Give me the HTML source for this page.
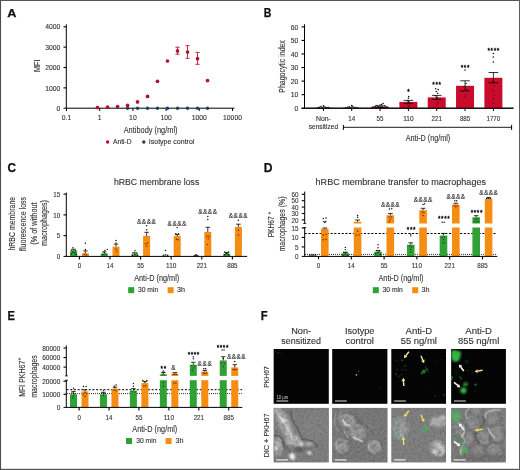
<!DOCTYPE html>
<html><head><meta charset="utf-8"><title>Figure</title>
<style>
html,body{margin:0;padding:0;background:#fff;}
body{width:520px;height:470px;overflow:hidden;}
svg{display:block;font-family:'Liberation Sans', sans-serif;}
</style></head><body>
<svg width="520" height="470" viewBox="0 0 520 470">
<rect width="520" height="470" fill="#ffffff"/>
<text x="7.30" y="17.00" font-size="11.6" text-anchor="start" fill="#111" stroke="#111" stroke-width="0.25" font-weight="bold" textLength="9.12" lengthAdjust="spacingAndGlyphs" >A</text>
<text x="263.80" y="17.00" font-size="12" text-anchor="start" fill="#111" stroke="#111" stroke-width="0.25" font-weight="bold" textLength="7.64" lengthAdjust="spacingAndGlyphs" >B</text>
<text x="7.50" y="172.00" font-size="12" text-anchor="start" fill="#111" stroke="#111" stroke-width="0.25" font-weight="bold" textLength="8.55" lengthAdjust="spacingAndGlyphs" >C</text>
<text x="263.80" y="172.00" font-size="12" text-anchor="start" fill="#111" stroke="#111" stroke-width="0.25" font-weight="bold" textLength="8.74" lengthAdjust="spacingAndGlyphs" >D</text>
<text x="7.60" y="320.00" font-size="12.4" text-anchor="start" fill="#111" stroke="#111" stroke-width="0.25" font-weight="bold" textLength="7.46" lengthAdjust="spacingAndGlyphs" >E</text>
<text x="260.80" y="320.00" font-size="12.4" text-anchor="start" fill="#111" stroke="#111" stroke-width="0.25" font-weight="bold" textLength="6.92" lengthAdjust="spacingAndGlyphs" >F</text>
<line x1="66.30" y1="24.30" x2="66.30" y2="108.65" stroke="#000000" stroke-width="1.0" />
<line x1="63.50" y1="108.20" x2="234.40" y2="108.20" stroke="#000000" stroke-width="1.0" />
<text x="60.30" y="110.85" font-size="7.3" text-anchor="end" fill="#333333" stroke="#333333" stroke-width="0.12" textLength="3.78" lengthAdjust="spacingAndGlyphs" >0</text>
<line x1="63.50" y1="87.85" x2="66.30" y2="87.85" stroke="#000000" stroke-width="1.1" />
<text x="60.30" y="90.50" font-size="7.3" text-anchor="end" fill="#333333" stroke="#333333" stroke-width="0.12" textLength="15.12" lengthAdjust="spacingAndGlyphs" >1000</text>
<line x1="63.50" y1="67.50" x2="66.30" y2="67.50" stroke="#000000" stroke-width="1.1" />
<text x="60.30" y="70.15" font-size="7.3" text-anchor="end" fill="#333333" stroke="#333333" stroke-width="0.12" textLength="15.12" lengthAdjust="spacingAndGlyphs" >2000</text>
<line x1="63.50" y1="47.15" x2="66.30" y2="47.15" stroke="#000000" stroke-width="1.1" />
<text x="60.30" y="49.80" font-size="7.3" text-anchor="end" fill="#333333" stroke="#333333" stroke-width="0.12" textLength="15.12" lengthAdjust="spacingAndGlyphs" >3000</text>
<line x1="63.50" y1="26.80" x2="66.30" y2="26.80" stroke="#000000" stroke-width="1.1" />
<text x="60.30" y="29.45" font-size="7.3" text-anchor="end" fill="#333333" stroke="#333333" stroke-width="0.12" textLength="15.12" lengthAdjust="spacingAndGlyphs" >4000</text>
<line x1="66.50" y1="108.20" x2="66.50" y2="111.00" stroke="#000000" stroke-width="1.0" />
<text x="66.50" y="120.35" font-size="7.3" text-anchor="middle" fill="#333333" stroke="#333333" stroke-width="0.12" textLength="9.45" lengthAdjust="spacingAndGlyphs" >0.1</text>
<line x1="99.70" y1="108.20" x2="99.70" y2="111.00" stroke="#000000" stroke-width="1.0" />
<text x="99.70" y="120.35" font-size="7.3" text-anchor="middle" fill="#333333" stroke="#333333" stroke-width="0.12" textLength="3.78" lengthAdjust="spacingAndGlyphs" >1</text>
<line x1="132.90" y1="108.20" x2="132.90" y2="111.00" stroke="#000000" stroke-width="1.0" />
<text x="132.90" y="120.35" font-size="7.3" text-anchor="middle" fill="#333333" stroke="#333333" stroke-width="0.12" textLength="7.56" lengthAdjust="spacingAndGlyphs" >10</text>
<line x1="166.10" y1="108.20" x2="166.10" y2="111.00" stroke="#000000" stroke-width="1.0" />
<text x="166.10" y="120.35" font-size="7.3" text-anchor="middle" fill="#333333" stroke="#333333" stroke-width="0.12" textLength="11.34" lengthAdjust="spacingAndGlyphs" >100</text>
<line x1="199.30" y1="108.20" x2="199.30" y2="111.00" stroke="#000000" stroke-width="1.0" />
<text x="199.30" y="120.35" font-size="7.3" text-anchor="middle" fill="#333333" stroke="#333333" stroke-width="0.12" textLength="15.12" lengthAdjust="spacingAndGlyphs" >1000</text>
<line x1="232.50" y1="108.20" x2="232.50" y2="111.00" stroke="#000000" stroke-width="1.0" />
<text x="232.50" y="120.35" font-size="7.3" text-anchor="middle" fill="#333333" stroke="#333333" stroke-width="0.12" textLength="18.90" lengthAdjust="spacingAndGlyphs" >10000</text>
<text x="39.70" y="65.80" font-size="9.7" text-anchor="middle" fill="#333333" stroke="#333333" stroke-width="0.12" textLength="12.40" lengthAdjust="spacingAndGlyphs" transform="rotate(-90 39.70 65.80)" >MFI</text>
<text x="150.60" y="132.80" font-size="9.5" text-anchor="middle" fill="#333333" stroke="#333333" stroke-width="0.12" textLength="53.80" lengthAdjust="spacingAndGlyphs" >Antibody (ng/ml)</text>
<circle cx="127.55" cy="108.20" r="1.7" fill="#17426b" />
<circle cx="137.54" cy="108.20" r="1.7" fill="#17426b" />
<circle cx="147.54" cy="108.20" r="1.7" fill="#17426b" />
<circle cx="157.48" cy="108.20" r="1.7" fill="#17426b" />
<circle cx="167.47" cy="108.20" r="1.7" fill="#17426b" />
<circle cx="177.53" cy="108.20" r="1.7" fill="#17426b" />
<circle cx="187.53" cy="108.20" r="1.7" fill="#17426b" />
<circle cx="197.54" cy="108.20" r="1.7" fill="#17426b" />
<circle cx="207.53" cy="108.20" r="1.7" fill="#17426b" />
<line x1="177.53" y1="47.20" x2="177.53" y2="54.20" stroke="#b5122f" stroke-width="0.9" />
<line x1="175.43" y1="47.20" x2="179.63" y2="47.20" stroke="#b5122f" stroke-width="0.9" />
<line x1="175.43" y1="54.20" x2="179.63" y2="54.20" stroke="#b5122f" stroke-width="0.9" />
<line x1="187.53" y1="45.70" x2="187.53" y2="58.30" stroke="#b5122f" stroke-width="0.9" />
<line x1="185.43" y1="45.70" x2="189.63" y2="45.70" stroke="#b5122f" stroke-width="0.9" />
<line x1="185.43" y1="58.30" x2="189.63" y2="58.30" stroke="#b5122f" stroke-width="0.9" />
<line x1="197.54" y1="52.40" x2="197.54" y2="64.30" stroke="#b5122f" stroke-width="0.9" />
<line x1="195.44" y1="52.40" x2="199.64" y2="52.40" stroke="#b5122f" stroke-width="0.9" />
<line x1="195.44" y1="64.30" x2="199.64" y2="64.30" stroke="#b5122f" stroke-width="0.9" />
<circle cx="97.53" cy="107.60" r="1.85" fill="#b5122f" />
<circle cx="107.60" cy="107.20" r="1.85" fill="#b5122f" />
<circle cx="117.56" cy="106.60" r="1.85" fill="#b5122f" />
<circle cx="127.55" cy="105.30" r="1.85" fill="#b5122f" />
<circle cx="137.54" cy="101.90" r="1.85" fill="#b5122f" />
<circle cx="147.54" cy="96.40" r="1.85" fill="#b5122f" />
<circle cx="157.48" cy="81.30" r="1.85" fill="#b5122f" />
<circle cx="167.47" cy="61.00" r="1.85" fill="#b5122f" />
<circle cx="177.53" cy="50.90" r="1.85" fill="#b5122f" />
<circle cx="187.53" cy="52.00" r="1.85" fill="#b5122f" />
<circle cx="197.54" cy="58.70" r="1.85" fill="#b5122f" />
<circle cx="207.53" cy="80.60" r="1.85" fill="#b5122f" />
<circle cx="107.60" cy="141.90" r="1.75" fill="#b5122f" />
<text x="113.00" y="144.10" font-size="6.7" text-anchor="start" fill="#333333" stroke="#333333" stroke-width="0.12" textLength="18.60" lengthAdjust="spacingAndGlyphs" >Anti-D</text>
<circle cx="143.80" cy="141.90" r="1.75" fill="#17426b" />
<text x="148.80" y="144.10" font-size="6.7" text-anchor="start" fill="#333333" stroke="#333333" stroke-width="0.12" textLength="45.60" lengthAdjust="spacingAndGlyphs" >Isotype control</text>
<line x1="304.50" y1="24.30" x2="304.50" y2="108.65" stroke="#000000" stroke-width="1.0" />
<line x1="301.50" y1="108.20" x2="513.50" y2="108.20" stroke="#000000" stroke-width="1.0" />
<text x="298.20" y="110.85" font-size="7.3" text-anchor="end" fill="#333333" stroke="#333333" stroke-width="0.12" textLength="3.78" lengthAdjust="spacingAndGlyphs" >0</text>
<line x1="301.50" y1="94.65" x2="304.50" y2="94.65" stroke="#000000" stroke-width="1.1" />
<text x="298.20" y="97.30" font-size="7.3" text-anchor="end" fill="#333333" stroke="#333333" stroke-width="0.12" textLength="7.56" lengthAdjust="spacingAndGlyphs" >10</text>
<line x1="301.50" y1="81.10" x2="304.50" y2="81.10" stroke="#000000" stroke-width="1.1" />
<text x="298.20" y="83.75" font-size="7.3" text-anchor="end" fill="#333333" stroke="#333333" stroke-width="0.12" textLength="7.56" lengthAdjust="spacingAndGlyphs" >20</text>
<line x1="301.50" y1="67.55" x2="304.50" y2="67.55" stroke="#000000" stroke-width="1.1" />
<text x="298.20" y="70.20" font-size="7.3" text-anchor="end" fill="#333333" stroke="#333333" stroke-width="0.12" textLength="7.56" lengthAdjust="spacingAndGlyphs" >30</text>
<line x1="301.50" y1="54.00" x2="304.50" y2="54.00" stroke="#000000" stroke-width="1.1" />
<text x="298.20" y="56.65" font-size="7.3" text-anchor="end" fill="#333333" stroke="#333333" stroke-width="0.12" textLength="7.56" lengthAdjust="spacingAndGlyphs" >40</text>
<line x1="301.50" y1="40.45" x2="304.50" y2="40.45" stroke="#000000" stroke-width="1.1" />
<text x="298.20" y="43.10" font-size="7.3" text-anchor="end" fill="#333333" stroke="#333333" stroke-width="0.12" textLength="7.56" lengthAdjust="spacingAndGlyphs" >50</text>
<line x1="301.50" y1="26.90" x2="304.50" y2="26.90" stroke="#000000" stroke-width="1.1" />
<text x="298.20" y="29.55" font-size="7.3" text-anchor="end" fill="#333333" stroke="#333333" stroke-width="0.12" textLength="7.56" lengthAdjust="spacingAndGlyphs" >60</text>
<text x="285.00" y="66.40" font-size="8.4" text-anchor="middle" fill="#333333" stroke="#333333" stroke-width="0.12" textLength="52.50" lengthAdjust="spacingAndGlyphs" transform="rotate(-90 285.00 66.40)" >Phagocytic index</text>
<rect x="314.40" y="107.70" width="18.00" height="0.50" fill="#c90c2c" />
<line x1="323.40" y1="108.20" x2="323.40" y2="111.00" stroke="#000000" stroke-width="1.0" />
<rect x="342.73" y="107.70" width="18.00" height="0.50" fill="#c90c2c" />
<line x1="351.73" y1="108.20" x2="351.73" y2="111.00" stroke="#000000" stroke-width="1.0" />
<rect x="371.06" y="106.90" width="18.00" height="1.30" fill="#c90c2c" />
<line x1="380.06" y1="108.20" x2="380.06" y2="111.00" stroke="#000000" stroke-width="1.0" />
<rect x="399.39" y="101.90" width="18.00" height="6.30" fill="#c90c2c" />
<line x1="408.39" y1="108.20" x2="408.39" y2="111.00" stroke="#000000" stroke-width="1.0" />
<rect x="427.72" y="97.40" width="18.00" height="10.80" fill="#c90c2c" />
<line x1="436.72" y1="108.20" x2="436.72" y2="111.00" stroke="#000000" stroke-width="1.0" />
<rect x="456.05" y="85.80" width="18.00" height="22.40" fill="#c90c2c" />
<line x1="465.05" y1="108.20" x2="465.05" y2="111.00" stroke="#000000" stroke-width="1.0" />
<rect x="484.38" y="77.80" width="18.00" height="30.40" fill="#c90c2c" />
<line x1="493.38" y1="108.20" x2="493.38" y2="111.00" stroke="#000000" stroke-width="1.0" />
<line x1="301.50" y1="108.20" x2="513.50" y2="108.20" stroke="#000000" stroke-width="1.0" />
<line x1="380.06" y1="105.90" x2="380.06" y2="107.60" stroke="#000000" stroke-width="0.8" />
<line x1="375.26" y1="105.90" x2="384.86" y2="105.90" stroke="#000000" stroke-width="0.8" />
<line x1="375.26" y1="107.60" x2="384.86" y2="107.60" stroke="#000000" stroke-width="0.8" />
<line x1="408.39" y1="100.40" x2="408.39" y2="103.40" stroke="#000000" stroke-width="0.8" />
<line x1="403.59" y1="100.40" x2="413.19" y2="100.40" stroke="#000000" stroke-width="0.8" />
<line x1="403.59" y1="103.40" x2="413.19" y2="103.40" stroke="#000000" stroke-width="0.8" />
<line x1="436.72" y1="95.40" x2="436.72" y2="99.30" stroke="#000000" stroke-width="0.8" />
<line x1="431.92" y1="95.40" x2="441.52" y2="95.40" stroke="#000000" stroke-width="0.8" />
<line x1="431.92" y1="99.30" x2="441.52" y2="99.30" stroke="#000000" stroke-width="0.8" />
<line x1="465.05" y1="80.80" x2="465.05" y2="90.80" stroke="#000000" stroke-width="0.8" />
<line x1="460.25" y1="80.80" x2="469.85" y2="80.80" stroke="#000000" stroke-width="0.8" />
<line x1="460.25" y1="90.80" x2="469.85" y2="90.80" stroke="#000000" stroke-width="0.8" />
<line x1="493.38" y1="72.50" x2="493.38" y2="82.80" stroke="#000000" stroke-width="0.8" />
<line x1="488.58" y1="72.50" x2="498.18" y2="72.50" stroke="#000000" stroke-width="0.8" />
<line x1="488.58" y1="82.80" x2="498.18" y2="82.80" stroke="#000000" stroke-width="0.8" />
<circle cx="319.40" cy="107.30" r="0.8" fill="#111" />
<circle cx="320.90" cy="106.60" r="0.8" fill="#111" />
<circle cx="322.40" cy="107.50" r="0.8" fill="#111" />
<circle cx="323.90" cy="106.20" r="0.8" fill="#111" />
<circle cx="325.40" cy="107.20" r="0.8" fill="#111" />
<circle cx="326.90" cy="107.60" r="0.8" fill="#111" />
<circle cx="317.90" cy="107.70" r="0.8" fill="#111" />
<circle cx="328.40" cy="107.60" r="0.8" fill="#111" />
<circle cx="323.40" cy="105.80" r="0.8" fill="#111" />
<circle cx="347.73" cy="107.40" r="0.8" fill="#111" />
<circle cx="349.23" cy="106.90" r="0.8" fill="#111" />
<circle cx="350.73" cy="107.50" r="0.8" fill="#111" />
<circle cx="352.23" cy="106.30" r="0.8" fill="#111" />
<circle cx="353.73" cy="107.20" r="0.8" fill="#111" />
<circle cx="355.23" cy="107.60" r="0.8" fill="#111" />
<circle cx="345.73" cy="107.70" r="0.8" fill="#111" />
<circle cx="357.23" cy="107.70" r="0.8" fill="#111" />
<circle cx="351.73" cy="105.60" r="0.8" fill="#111" />
<circle cx="374.06" cy="106.80" r="0.8" fill="#111" />
<circle cx="375.56" cy="106.20" r="0.8" fill="#111" />
<circle cx="377.06" cy="105.60" r="0.8" fill="#111" />
<circle cx="378.56" cy="106.50" r="0.8" fill="#111" />
<circle cx="380.06" cy="105.00" r="0.8" fill="#111" />
<circle cx="381.56" cy="104.60" r="0.8" fill="#111" />
<circle cx="383.06" cy="103.50" r="0.8" fill="#111" />
<circle cx="384.56" cy="105.80" r="0.8" fill="#111" />
<circle cx="386.06" cy="106.60" r="0.8" fill="#111" />
<circle cx="372.56" cy="107.20" r="0.8" fill="#111" />
<circle cx="387.56" cy="107.20" r="0.8" fill="#111" />
<circle cx="382.06" cy="106.50" r="0.8" fill="#111" />
<circle cx="378.06" cy="107.10" r="0.8" fill="#111" />
<circle cx="408.39" cy="90.60" r="0.8" fill="#111" />
<circle cx="408.69" cy="96.50" r="0.8" fill="#111" />
<circle cx="408.39" cy="98.30" r="0.8" fill="#111" />
<circle cx="407.59" cy="100.80" r="0.8" fill="#111" />
<circle cx="409.19" cy="102.20" r="0.8" fill="#111" />
<circle cx="407.39" cy="104.00" r="0.8" fill="#3a0008" opacity="0.65"/>
<circle cx="409.59" cy="105.50" r="0.8" fill="#3a0008" opacity="0.65"/>
<circle cx="408.39" cy="106.80" r="0.8" fill="#3a0008" opacity="0.65"/>
<circle cx="435.72" cy="88.70" r="0.8" fill="#111" />
<circle cx="438.22" cy="89.60" r="0.8" fill="#111" />
<circle cx="436.22" cy="91.50" r="0.8" fill="#111" />
<circle cx="437.72" cy="93.30" r="0.8" fill="#111" />
<circle cx="435.22" cy="95.80" r="0.8" fill="#111" />
<circle cx="437.22" cy="97.50" r="0.8" fill="#111" />
<circle cx="436.22" cy="100.00" r="0.8" fill="#3a0008" opacity="0.65"/>
<circle cx="437.72" cy="102.50" r="0.8" fill="#3a0008" opacity="0.65"/>
<circle cx="436.72" cy="105.00" r="0.8" fill="#3a0008" opacity="0.65"/>
<circle cx="465.05" cy="70.00" r="0.8" fill="#111" />
<circle cx="466.05" cy="83.50" r="0.8" fill="#111" />
<circle cx="464.05" cy="86.50" r="0.8" fill="#3a0008" opacity="0.65"/>
<circle cx="466.55" cy="89.50" r="0.8" fill="#3a0008" opacity="0.65"/>
<circle cx="463.55" cy="91.50" r="0.8" fill="#3a0008" opacity="0.65"/>
<circle cx="465.55" cy="94.50" r="0.8" fill="#3a0008" opacity="0.65"/>
<circle cx="464.55" cy="97.00" r="0.8" fill="#3a0008" opacity="0.65"/>
<circle cx="493.38" cy="53.50" r="0.8" fill="#111" />
<circle cx="493.38" cy="57.00" r="0.8" fill="#111" />
<circle cx="493.38" cy="62.00" r="0.8" fill="#111" />
<circle cx="492.38" cy="82.00" r="0.8" fill="#3a0008" opacity="0.65"/>
<circle cx="494.38" cy="86.00" r="0.8" fill="#3a0008" opacity="0.65"/>
<circle cx="492.88" cy="90.50" r="0.8" fill="#3a0008" opacity="0.65"/>
<circle cx="494.18" cy="95.00" r="0.8" fill="#3a0008" opacity="0.65"/>
<circle cx="493.38" cy="99.00" r="0.8" fill="#3a0008" opacity="0.65"/>
<circle cx="493.38" cy="103.00" r="0.8" fill="#3a0008" opacity="0.65"/>
<text x="408.39" y="93.90" font-size="6.4" text-anchor="middle" fill="#000" stroke="#000" stroke-width="0.3" >*</text>
<text x="436.72" y="86.90" font-size="6.4" text-anchor="middle" fill="#000" stroke="#000" stroke-width="0.3" textLength="8.70" lengthAdjust="spacing" >***</text>
<text x="465.05" y="69.60" font-size="6.4" text-anchor="middle" fill="#000" stroke="#000" stroke-width="0.3" textLength="8.70" lengthAdjust="spacing" >***</text>
<text x="493.38" y="53.30" font-size="6.4" text-anchor="middle" fill="#000" stroke="#000" stroke-width="0.3" textLength="11.60" lengthAdjust="spacing" >****</text>
<text x="323.40" y="120.70" font-size="6.7" text-anchor="middle" fill="#333333" stroke="#333333" stroke-width="0.12" textLength="15.00" lengthAdjust="spacingAndGlyphs" >Non-</text>
<text x="323.40" y="128.80" font-size="6.7" text-anchor="middle" fill="#333333" stroke="#333333" stroke-width="0.12" textLength="29.50" lengthAdjust="spacingAndGlyphs" >sensitized</text>
<text x="351.73" y="120.85" font-size="7.6" text-anchor="middle" fill="#333333" stroke="#333333" stroke-width="0.12" textLength="6.90" lengthAdjust="spacingAndGlyphs" >14</text>
<text x="380.06" y="120.85" font-size="7.6" text-anchor="middle" fill="#333333" stroke="#333333" stroke-width="0.12" textLength="6.90" lengthAdjust="spacingAndGlyphs" >55</text>
<text x="408.39" y="120.85" font-size="7.6" text-anchor="middle" fill="#333333" stroke="#333333" stroke-width="0.12" textLength="10.35" lengthAdjust="spacingAndGlyphs" >110</text>
<text x="436.72" y="120.85" font-size="7.6" text-anchor="middle" fill="#333333" stroke="#333333" stroke-width="0.12" textLength="10.35" lengthAdjust="spacingAndGlyphs" >221</text>
<text x="465.05" y="120.85" font-size="7.6" text-anchor="middle" fill="#333333" stroke="#333333" stroke-width="0.12" textLength="10.35" lengthAdjust="spacingAndGlyphs" >885</text>
<text x="493.38" y="120.85" font-size="7.6" text-anchor="middle" fill="#333333" stroke="#333333" stroke-width="0.12" textLength="13.80" lengthAdjust="spacingAndGlyphs" >1770</text>
<line x1="343.40" y1="127.30" x2="511.60" y2="127.30" stroke="#000000" stroke-width="0.9" />
<line x1="343.40" y1="124.90" x2="343.40" y2="129.90" stroke="#000000" stroke-width="1.0" />
<line x1="511.60" y1="124.90" x2="511.60" y2="129.90" stroke="#000000" stroke-width="1.0" />
<text x="428.00" y="140.80" font-size="9.5" text-anchor="middle" fill="#333333" stroke="#333333" stroke-width="0.12" textLength="44.50" lengthAdjust="spacingAndGlyphs" >Anti-D (ng/ml)</text>
<text x="156.60" y="185.40" font-size="8.9" text-anchor="middle" fill="#333333" stroke="#333333" stroke-width="0.12" textLength="85.40" lengthAdjust="spacingAndGlyphs" >hRBC membrane loss</text>
<line x1="66.30" y1="192.60" x2="66.30" y2="256.90" stroke="#000000" stroke-width="1.0" />
<text x="60.30" y="259.05" font-size="7.6" text-anchor="end" fill="#333333" stroke="#333333" stroke-width="0.12" textLength="3.50" lengthAdjust="spacingAndGlyphs" >0</text>
<line x1="63.50" y1="235.65" x2="66.50" y2="235.65" stroke="#000000" stroke-width="1.1" />
<text x="60.30" y="238.30" font-size="7.6" text-anchor="end" fill="#333333" stroke="#333333" stroke-width="0.12" textLength="3.50" lengthAdjust="spacingAndGlyphs" >5</text>
<line x1="63.50" y1="214.90" x2="66.50" y2="214.90" stroke="#000000" stroke-width="1.1" />
<text x="60.30" y="217.55" font-size="7.6" text-anchor="end" fill="#333333" stroke="#333333" stroke-width="0.12" textLength="7.00" lengthAdjust="spacingAndGlyphs" >10</text>
<line x1="63.50" y1="194.15" x2="66.50" y2="194.15" stroke="#000000" stroke-width="1.1" />
<text x="60.30" y="196.80" font-size="7.6" text-anchor="end" fill="#333333" stroke="#333333" stroke-width="0.12" textLength="7.00" lengthAdjust="spacingAndGlyphs" >15</text>
<text x="15.00" y="223.70" font-size="8.2" text-anchor="middle" fill="#333333" stroke="#333333" stroke-width="0.12" textLength="53.60" lengthAdjust="spacingAndGlyphs" transform="rotate(-90 15.00 223.70)" >hRBC membrane</text>
<text x="26.10" y="223.90" font-size="8.2" text-anchor="middle" fill="#333333" stroke="#333333" stroke-width="0.12" textLength="54.00" lengthAdjust="spacingAndGlyphs" transform="rotate(-90 26.10 223.90)" >fluorescence loss</text>
<text x="37.10" y="223.60" font-size="8.2" text-anchor="middle" fill="#333333" stroke="#333333" stroke-width="0.12" textLength="42.40" lengthAdjust="spacingAndGlyphs" transform="rotate(-90 37.10 223.60)" >(% of without</text>
<text x="47.00" y="223.00" font-size="8.2" text-anchor="middle" fill="#333333" stroke="#333333" stroke-width="0.12" textLength="46.00" lengthAdjust="spacingAndGlyphs" transform="rotate(-90 47.00 223.00)" >macrophages)</text>
<rect x="70.20" y="250.50" width="7.00" height="5.90" fill="#31a136" />
<rect x="100.80" y="253.60" width="7.00" height="2.80" fill="#31a136" />
<rect x="131.40" y="254.40" width="7.00" height="2.00" fill="#31a136" />
<rect x="162.00" y="255.60" width="7.00" height="0.80" fill="#31a136" />
<rect x="192.60" y="255.90" width="7.00" height="0.50" fill="#31a136" />
<rect x="223.20" y="253.80" width="7.00" height="2.60" fill="#31a136" />
<rect x="81.90" y="253.20" width="7.00" height="3.20" fill="#f48d12" />
<rect x="112.50" y="246.70" width="7.00" height="9.70" fill="#f48d12" />
<rect x="143.10" y="235.80" width="7.00" height="20.60" fill="#f48d12" />
<rect x="173.70" y="236.00" width="7.00" height="20.40" fill="#f48d12" />
<rect x="204.30" y="232.00" width="7.00" height="24.40" fill="#f48d12" />
<rect x="234.90" y="226.90" width="7.00" height="29.50" fill="#f48d12" />
<line x1="63.50" y1="256.40" x2="247.20" y2="256.40" stroke="#000000" stroke-width="1.0" />
<line x1="79.40" y1="256.40" x2="79.40" y2="259.40" stroke="#000000" stroke-width="1.1" />
<text x="79.40" y="268.35" font-size="7.6" text-anchor="middle" fill="#333333" stroke="#333333" stroke-width="0.12" textLength="3.45" lengthAdjust="spacingAndGlyphs" >0</text>
<line x1="110.00" y1="256.40" x2="110.00" y2="259.40" stroke="#000000" stroke-width="1.1" />
<text x="110.00" y="268.35" font-size="7.6" text-anchor="middle" fill="#333333" stroke="#333333" stroke-width="0.12" textLength="6.90" lengthAdjust="spacingAndGlyphs" >14</text>
<line x1="140.60" y1="256.40" x2="140.60" y2="259.40" stroke="#000000" stroke-width="1.1" />
<text x="140.60" y="268.35" font-size="7.6" text-anchor="middle" fill="#333333" stroke="#333333" stroke-width="0.12" textLength="6.90" lengthAdjust="spacingAndGlyphs" >55</text>
<line x1="171.20" y1="256.40" x2="171.20" y2="259.40" stroke="#000000" stroke-width="1.1" />
<text x="171.20" y="268.35" font-size="7.6" text-anchor="middle" fill="#333333" stroke="#333333" stroke-width="0.12" textLength="10.35" lengthAdjust="spacingAndGlyphs" >110</text>
<line x1="201.80" y1="256.40" x2="201.80" y2="259.40" stroke="#000000" stroke-width="1.1" />
<text x="201.80" y="268.35" font-size="7.6" text-anchor="middle" fill="#333333" stroke="#333333" stroke-width="0.12" textLength="10.35" lengthAdjust="spacingAndGlyphs" >221</text>
<line x1="232.40" y1="256.40" x2="232.40" y2="259.40" stroke="#000000" stroke-width="1.1" />
<text x="232.40" y="268.35" font-size="7.6" text-anchor="middle" fill="#333333" stroke="#333333" stroke-width="0.12" textLength="10.35" lengthAdjust="spacingAndGlyphs" >885</text>
<line x1="73.70" y1="249.20" x2="73.70" y2="250.50" stroke="#111" stroke-width="0.8" />
<line x1="71.50" y1="249.20" x2="75.90" y2="249.20" stroke="#111" stroke-width="0.8" />
<line x1="104.30" y1="251.80" x2="104.30" y2="253.60" stroke="#111" stroke-width="0.8" />
<line x1="102.10" y1="251.80" x2="106.50" y2="251.80" stroke="#111" stroke-width="0.8" />
<line x1="134.90" y1="252.80" x2="134.90" y2="254.40" stroke="#111" stroke-width="0.8" />
<line x1="132.70" y1="252.80" x2="137.10" y2="252.80" stroke="#111" stroke-width="0.8" />
<line x1="226.70" y1="252.60" x2="226.70" y2="253.80" stroke="#111" stroke-width="0.8" />
<line x1="224.50" y1="252.60" x2="228.90" y2="252.60" stroke="#111" stroke-width="0.8" />
<line x1="85.40" y1="250.90" x2="85.40" y2="253.20" stroke="#111" stroke-width="0.85" />
<line x1="83.10" y1="250.90" x2="87.70" y2="250.90" stroke="#111" stroke-width="0.85" />
<line x1="116.00" y1="244.10" x2="116.00" y2="246.70" stroke="#111" stroke-width="0.85" />
<line x1="113.70" y1="244.10" x2="118.30" y2="244.10" stroke="#111" stroke-width="0.85" />
<line x1="146.60" y1="232.30" x2="146.60" y2="235.80" stroke="#111" stroke-width="0.85" />
<line x1="144.30" y1="232.30" x2="148.90" y2="232.30" stroke="#111" stroke-width="0.85" />
<line x1="177.20" y1="234.60" x2="177.20" y2="236.00" stroke="#111" stroke-width="0.85" />
<line x1="174.90" y1="234.60" x2="179.50" y2="234.60" stroke="#111" stroke-width="0.85" />
<line x1="207.80" y1="227.30" x2="207.80" y2="232.00" stroke="#111" stroke-width="0.85" />
<line x1="205.50" y1="227.30" x2="210.10" y2="227.30" stroke="#111" stroke-width="0.85" />
<line x1="238.40" y1="224.20" x2="238.40" y2="226.90" stroke="#111" stroke-width="0.85" />
<line x1="236.10" y1="224.20" x2="240.70" y2="224.20" stroke="#111" stroke-width="0.85" />
<circle cx="72.90" cy="247.80" r="0.72" fill="#111" />
<circle cx="71.70" cy="250.00" r="0.72" fill="#111" />
<circle cx="75.20" cy="250.50" r="0.72" fill="#111" />
<circle cx="72.70" cy="252.00" r="0.72" fill="#111" />
<circle cx="74.70" cy="253.00" r="0.72" fill="#111" />
<circle cx="71.20" cy="254.00" r="0.72" fill="#111" />
<circle cx="76.20" cy="254.50" r="0.72" fill="#111" />
<circle cx="104.90" cy="250.50" r="0.72" fill="#111" />
<circle cx="107.30" cy="249.40" r="0.72" fill="#111" />
<circle cx="104.30" cy="252.50" r="0.72" fill="#111" />
<circle cx="102.80" cy="254.50" r="0.72" fill="#111" />
<circle cx="105.80" cy="254.00" r="0.72" fill="#111" />
<circle cx="134.90" cy="250.80" r="0.72" fill="#111" />
<circle cx="132.90" cy="253.00" r="0.72" fill="#111" />
<circle cx="136.90" cy="253.50" r="0.72" fill="#111" />
<circle cx="134.90" cy="254.50" r="0.72" fill="#111" />
<circle cx="132.40" cy="255.30" r="0.72" fill="#111" />
<circle cx="137.40" cy="255.30" r="0.72" fill="#111" />
<circle cx="165.50" cy="250.50" r="0.72" fill="#111" />
<circle cx="163.50" cy="255.20" r="0.72" fill="#111" />
<circle cx="165.50" cy="254.80" r="0.72" fill="#111" />
<circle cx="167.50" cy="255.30" r="0.72" fill="#111" />
<circle cx="194.50" cy="255.60" r="0.72" fill="#111" />
<circle cx="196.10" cy="254.60" r="0.72" fill="#111" />
<circle cx="197.70" cy="255.60" r="0.72" fill="#111" />
<circle cx="195.30" cy="255.20" r="0.72" fill="#111" />
<circle cx="196.90" cy="255.20" r="0.72" fill="#111" />
<circle cx="224.70" cy="252.00" r="0.72" fill="#111" />
<circle cx="228.70" cy="252.00" r="0.72" fill="#111" />
<circle cx="226.70" cy="253.50" r="0.72" fill="#111" />
<circle cx="224.70" cy="254.80" r="0.72" fill="#111" />
<circle cx="228.70" cy="254.80" r="0.72" fill="#111" />
<circle cx="225.70" cy="253.00" r="0.72" fill="#111" />
<circle cx="227.70" cy="253.00" r="0.72" fill="#111" />
<circle cx="85.40" cy="243.30" r="0.75" fill="#111" />
<circle cx="85.40" cy="249.50" r="0.75" fill="#111" />
<circle cx="84.40" cy="254.20" r="0.75" fill="#6a1400" opacity="0.85"/>
<circle cx="86.40" cy="255.00" r="0.75" fill="#6a1400" opacity="0.85"/>
<circle cx="116.00" cy="240.40" r="0.75" fill="#111" />
<circle cx="116.00" cy="243.00" r="0.75" fill="#111" />
<circle cx="116.00" cy="249.20" r="0.75" fill="#6a1400" opacity="0.85"/>
<circle cx="117.00" cy="251.50" r="0.75" fill="#6a1400" opacity="0.85"/>
<circle cx="146.60" cy="225.80" r="0.75" fill="#111" />
<circle cx="146.60" cy="229.80" r="0.75" fill="#111" />
<circle cx="145.60" cy="243.80" r="0.75" fill="#6a1400" opacity="0.85"/>
<circle cx="147.60" cy="243.00" r="0.75" fill="#6a1400" opacity="0.85"/>
<circle cx="146.60" cy="246.00" r="0.75" fill="#6a1400" opacity="0.85"/>
<circle cx="177.20" cy="227.50" r="0.75" fill="#111" />
<circle cx="175.90" cy="233.80" r="0.75" fill="#111" />
<circle cx="178.50" cy="233.80" r="0.75" fill="#111" />
<circle cx="176.60" cy="239.20" r="0.75" fill="#6a1400" opacity="0.85"/>
<circle cx="178.20" cy="239.80" r="0.75" fill="#6a1400" opacity="0.85"/>
<circle cx="207.80" cy="216.40" r="0.75" fill="#111" />
<circle cx="207.80" cy="219.50" r="0.75" fill="#111" />
<circle cx="206.80" cy="236.30" r="0.75" fill="#6a1400" opacity="0.85"/>
<circle cx="209.20" cy="236.30" r="0.75" fill="#6a1400" opacity="0.85"/>
<circle cx="208.20" cy="238.40" r="0.75" fill="#6a1400" opacity="0.85"/>
<circle cx="207.50" cy="244.40" r="0.75" fill="#6a1400" opacity="0.85"/>
<circle cx="238.40" cy="220.20" r="0.75" fill="#111" />
<circle cx="238.40" cy="230.30" r="0.75" fill="#6a1400" opacity="0.85"/>
<circle cx="238.40" cy="235.00" r="0.75" fill="#6a1400" opacity="0.85"/>
<text x="146.40" y="224.00" font-size="6.5" text-anchor="middle" fill="#333333" stroke="#333333" stroke-width="0.12" textLength="18.80" lengthAdjust="spacing" >&amp;&amp;&amp;&amp;</text>
<text x="177.00" y="225.50" font-size="6.5" text-anchor="middle" fill="#333333" stroke="#333333" stroke-width="0.12" textLength="18.80" lengthAdjust="spacing" >&amp;&amp;&amp;&amp;</text>
<text x="207.60" y="214.30" font-size="6.5" text-anchor="middle" fill="#333333" stroke="#333333" stroke-width="0.12" textLength="18.80" lengthAdjust="spacing" >&amp;&amp;&amp;&amp;</text>
<text x="238.20" y="218.40" font-size="6.5" text-anchor="middle" fill="#333333" stroke="#333333" stroke-width="0.12" textLength="18.80" lengthAdjust="spacing" >&amp;&amp;&amp;&amp;</text>
<text x="156.70" y="280.80" font-size="9.5" text-anchor="middle" fill="#333333" stroke="#333333" stroke-width="0.12" textLength="45.00" lengthAdjust="spacingAndGlyphs" >Anti-D (ng/ml)</text>
<rect x="128.20" y="287.20" width="6.00" height="6.00" fill="#31a136" />
<text x="138.00" y="292.20" font-size="6.7" text-anchor="start" fill="#333333" stroke="#333333" stroke-width="0.12" textLength="20.20" lengthAdjust="spacingAndGlyphs" >30 min</text>
<rect x="167.60" y="287.20" width="6.00" height="6.00" fill="#f48d12" />
<text x="177.00" y="292.20" font-size="6.7" text-anchor="start" fill="#333333" stroke="#333333" stroke-width="0.12" textLength="8.00" lengthAdjust="spacingAndGlyphs" >3h</text>
<text x="400.80" y="185.40" font-size="8.9" text-anchor="middle" fill="#333333" stroke="#333333" stroke-width="0.12" textLength="170.40" lengthAdjust="spacingAndGlyphs" >hRBC membrane transfer to macrophages</text>
<line x1="304.70" y1="191.60" x2="304.70" y2="223.50" stroke="#000000" stroke-width="1.0" />
<line x1="304.70" y1="227.50" x2="304.70" y2="256.90" stroke="#000000" stroke-width="1.0" />
<line x1="303.20" y1="223.50" x2="306.20" y2="223.50" stroke="#000000" stroke-width="0.8" />
<line x1="303.20" y1="227.50" x2="306.20" y2="227.50" stroke="#000000" stroke-width="0.8" />
<line x1="301.70" y1="219.90" x2="304.70" y2="219.90" stroke="#000000" stroke-width="1.1" />
<text x="298.40" y="222.55" font-size="7.6" text-anchor="end" fill="#333333" stroke="#333333" stroke-width="0.12" textLength="7.00" lengthAdjust="spacingAndGlyphs" >20</text>
<line x1="301.70" y1="213.50" x2="304.70" y2="213.50" stroke="#000000" stroke-width="1.1" />
<text x="298.40" y="216.15" font-size="7.6" text-anchor="end" fill="#333333" stroke="#333333" stroke-width="0.12" textLength="7.00" lengthAdjust="spacingAndGlyphs" >30</text>
<line x1="301.70" y1="207.10" x2="304.70" y2="207.10" stroke="#000000" stroke-width="1.1" />
<text x="298.40" y="209.75" font-size="7.6" text-anchor="end" fill="#333333" stroke="#333333" stroke-width="0.12" textLength="7.00" lengthAdjust="spacingAndGlyphs" >40</text>
<line x1="301.70" y1="200.70" x2="304.70" y2="200.70" stroke="#000000" stroke-width="1.1" />
<text x="298.40" y="203.35" font-size="7.6" text-anchor="end" fill="#333333" stroke="#333333" stroke-width="0.12" textLength="7.00" lengthAdjust="spacingAndGlyphs" >50</text>
<line x1="301.70" y1="194.30" x2="304.70" y2="194.30" stroke="#000000" stroke-width="1.1" />
<text x="298.40" y="196.95" font-size="7.6" text-anchor="end" fill="#333333" stroke="#333333" stroke-width="0.12" textLength="7.00" lengthAdjust="spacingAndGlyphs" >60</text>
<text x="298.40" y="259.05" font-size="7.6" text-anchor="end" fill="#333333" stroke="#333333" stroke-width="0.12" textLength="3.50" lengthAdjust="spacingAndGlyphs" >0</text>
<line x1="301.70" y1="246.93" x2="304.70" y2="246.93" stroke="#000000" stroke-width="1.1" />
<text x="298.40" y="249.58" font-size="7.6" text-anchor="end" fill="#333333" stroke="#333333" stroke-width="0.12" textLength="3.50" lengthAdjust="spacingAndGlyphs" >5</text>
<line x1="301.70" y1="237.46" x2="304.70" y2="237.46" stroke="#000000" stroke-width="1.1" />
<text x="298.40" y="240.11" font-size="7.6" text-anchor="end" fill="#333333" stroke="#333333" stroke-width="0.12" textLength="7.00" lengthAdjust="spacingAndGlyphs" >10</text>
<line x1="301.70" y1="227.99" x2="304.70" y2="227.99" stroke="#000000" stroke-width="1.1" />
<text x="298.40" y="230.64" font-size="7.6" text-anchor="end" fill="#333333" stroke="#333333" stroke-width="0.12" textLength="7.00" lengthAdjust="spacingAndGlyphs" >15</text>
<text x="274.10" y="226.80" font-size="8.2" text-anchor="middle" fill="#333333" stroke="#333333" stroke-width="0.12" textLength="21.00" lengthAdjust="spacingAndGlyphs" transform="rotate(-90 274.10 226.80)" >PKH67</text>
<text x="270.70" y="213.00" font-size="5.2" text-anchor="middle" fill="#333333" stroke="#333333" stroke-width="0.12" transform="rotate(-90 270.70 213.00)" >+</text>
<text x="285.20" y="224.00" font-size="8.2" text-anchor="middle" fill="#333333" stroke="#333333" stroke-width="0.12" textLength="55.00" lengthAdjust="spacingAndGlyphs" transform="rotate(-90 285.20 224.00)" >macrophages (%)</text>
<line x1="304.70" y1="233.50" x2="496.60" y2="233.50" stroke="#000" stroke-width="1.0" stroke-dasharray="2.1 1.6"/>
<line x1="305.00" y1="254.40" x2="496.60" y2="254.40" stroke="#000" stroke-width="0.9" stroke-dasharray="0.9 1.1"/>
<rect x="308.80" y="255.60" width="7.60" height="0.80" fill="#31a136" />
<rect x="341.52" y="253.40" width="7.60" height="3.00" fill="#31a136" />
<rect x="374.24" y="251.80" width="7.60" height="4.60" fill="#31a136" />
<rect x="406.96" y="244.70" width="7.60" height="11.70" fill="#31a136" />
<rect x="439.68" y="235.60" width="7.60" height="20.80" fill="#31a136" />
<rect x="472.40" y="227.50" width="7.60" height="28.90" fill="#31a136" />
<rect x="472.40" y="217.30" width="7.60" height="6.20" fill="#31a136" />
<rect x="321.00" y="228.80" width="7.60" height="27.60" fill="#f48d12" />
<rect x="353.76" y="227.50" width="7.60" height="28.90" fill="#f48d12" />
<rect x="353.76" y="221.80" width="7.60" height="1.70" fill="#f48d12" />
<rect x="386.52" y="227.50" width="7.60" height="28.90" fill="#f48d12" />
<rect x="386.52" y="215.30" width="7.60" height="8.20" fill="#f48d12" />
<rect x="419.28" y="227.50" width="7.60" height="28.90" fill="#f48d12" />
<rect x="419.28" y="210.20" width="7.60" height="13.30" fill="#f48d12" />
<rect x="452.04" y="227.50" width="7.60" height="28.90" fill="#f48d12" />
<rect x="452.04" y="204.60" width="7.60" height="18.90" fill="#f48d12" />
<rect x="484.80" y="227.50" width="7.60" height="28.90" fill="#f48d12" />
<rect x="484.80" y="199.10" width="7.60" height="24.40" fill="#f48d12" />
<line x1="301.70" y1="256.40" x2="497.30" y2="256.40" stroke="#000000" stroke-width="1.0" />
<line x1="318.50" y1="256.40" x2="318.50" y2="259.40" stroke="#000000" stroke-width="1.1" />
<text x="318.50" y="268.35" font-size="7.6" text-anchor="middle" fill="#333333" stroke="#333333" stroke-width="0.12" textLength="3.45" lengthAdjust="spacingAndGlyphs" >0</text>
<line x1="351.30" y1="256.40" x2="351.30" y2="259.40" stroke="#000000" stroke-width="1.1" />
<text x="351.30" y="268.35" font-size="7.6" text-anchor="middle" fill="#333333" stroke="#333333" stroke-width="0.12" textLength="6.90" lengthAdjust="spacingAndGlyphs" >14</text>
<line x1="384.10" y1="256.40" x2="384.10" y2="259.40" stroke="#000000" stroke-width="1.1" />
<text x="384.10" y="268.35" font-size="7.6" text-anchor="middle" fill="#333333" stroke="#333333" stroke-width="0.12" textLength="6.90" lengthAdjust="spacingAndGlyphs" >55</text>
<line x1="416.90" y1="256.40" x2="416.90" y2="259.40" stroke="#000000" stroke-width="1.1" />
<text x="416.90" y="268.35" font-size="7.6" text-anchor="middle" fill="#333333" stroke="#333333" stroke-width="0.12" textLength="10.35" lengthAdjust="spacingAndGlyphs" >110</text>
<line x1="449.70" y1="256.40" x2="449.70" y2="259.40" stroke="#000000" stroke-width="1.1" />
<text x="449.70" y="268.35" font-size="7.6" text-anchor="middle" fill="#333333" stroke="#333333" stroke-width="0.12" textLength="10.35" lengthAdjust="spacingAndGlyphs" >221</text>
<line x1="482.50" y1="256.40" x2="482.50" y2="259.40" stroke="#000000" stroke-width="1.1" />
<text x="482.50" y="268.35" font-size="7.6" text-anchor="middle" fill="#333333" stroke="#333333" stroke-width="0.12" textLength="10.35" lengthAdjust="spacingAndGlyphs" >885</text>
<line x1="345.32" y1="252.20" x2="345.32" y2="253.40" stroke="#111" stroke-width="0.85" />
<line x1="343.02" y1="252.20" x2="347.62" y2="252.20" stroke="#111" stroke-width="0.85" />
<line x1="378.04" y1="250.60" x2="378.04" y2="251.80" stroke="#111" stroke-width="0.85" />
<line x1="375.74" y1="250.60" x2="380.34" y2="250.60" stroke="#111" stroke-width="0.85" />
<line x1="410.76" y1="242.80" x2="410.76" y2="244.70" stroke="#111" stroke-width="0.85" />
<line x1="408.46" y1="242.80" x2="413.06" y2="242.80" stroke="#111" stroke-width="0.85" />
<line x1="443.48" y1="233.40" x2="443.48" y2="235.60" stroke="#111" stroke-width="0.85" />
<line x1="441.18" y1="233.40" x2="445.78" y2="233.40" stroke="#111" stroke-width="0.85" />
<line x1="476.20" y1="215.70" x2="476.20" y2="217.30" stroke="#111" stroke-width="0.85" />
<line x1="473.90" y1="215.70" x2="478.50" y2="215.70" stroke="#111" stroke-width="0.85" />
<line x1="324.80" y1="228.00" x2="324.80" y2="228.80" stroke="#111" stroke-width="0.85" />
<line x1="322.40" y1="228.00" x2="327.20" y2="228.00" stroke="#111" stroke-width="0.85" />
<line x1="357.56" y1="220.00" x2="357.56" y2="221.80" stroke="#111" stroke-width="0.85" />
<line x1="355.16" y1="220.00" x2="359.96" y2="220.00" stroke="#111" stroke-width="0.85" />
<line x1="390.32" y1="213.60" x2="390.32" y2="215.30" stroke="#111" stroke-width="0.85" />
<line x1="387.92" y1="213.60" x2="392.72" y2="213.60" stroke="#111" stroke-width="0.85" />
<line x1="423.08" y1="208.30" x2="423.08" y2="210.20" stroke="#111" stroke-width="0.85" />
<line x1="420.68" y1="208.30" x2="425.48" y2="208.30" stroke="#111" stroke-width="0.85" />
<line x1="455.84" y1="203.20" x2="455.84" y2="204.60" stroke="#111" stroke-width="0.85" />
<line x1="453.44" y1="203.20" x2="458.24" y2="203.20" stroke="#111" stroke-width="0.85" />
<line x1="488.60" y1="198.00" x2="488.60" y2="199.10" stroke="#111" stroke-width="0.85" />
<line x1="486.20" y1="198.00" x2="491.00" y2="198.00" stroke="#111" stroke-width="0.85" />
<circle cx="309.60" cy="255.00" r="0.72" fill="#111" />
<circle cx="311.10" cy="254.90" r="0.72" fill="#111" />
<circle cx="312.60" cy="255.00" r="0.72" fill="#111" />
<circle cx="314.10" cy="254.90" r="0.72" fill="#111" />
<circle cx="315.60" cy="255.00" r="0.72" fill="#111" />
<circle cx="345.32" cy="247.40" r="0.72" fill="#111" />
<circle cx="345.32" cy="249.60" r="0.72" fill="#111" />
<circle cx="343.82" cy="252.50" r="0.72" fill="#111" />
<circle cx="346.82" cy="252.80" r="0.72" fill="#111" />
<circle cx="345.32" cy="254.00" r="0.72" fill="#111" />
<circle cx="342.92" cy="255.00" r="0.72" fill="#111" />
<circle cx="347.72" cy="255.20" r="0.72" fill="#111" />
<circle cx="378.04" cy="244.70" r="0.72" fill="#111" />
<circle cx="378.04" cy="247.80" r="0.72" fill="#111" />
<circle cx="376.54" cy="250.50" r="0.72" fill="#111" />
<circle cx="379.54" cy="251.00" r="0.72" fill="#111" />
<circle cx="378.04" cy="252.60" r="0.72" fill="#111" />
<circle cx="375.84" cy="253.80" r="0.72" fill="#111" />
<circle cx="380.24" cy="254.20" r="0.72" fill="#111" />
<circle cx="410.76" cy="234.30" r="0.72" fill="#111" />
<circle cx="410.76" cy="235.90" r="0.72" fill="#111" />
<circle cx="409.76" cy="246.20" r="0.72" fill="#0a2a08" opacity="0.7"/>
<circle cx="411.76" cy="247.00" r="0.72" fill="#0a2a08" opacity="0.7"/>
<circle cx="410.76" cy="249.50" r="0.72" fill="#0a2a08" opacity="0.7"/>
<circle cx="410.76" cy="252.00" r="0.72" fill="#0a2a08" opacity="0.7"/>
<circle cx="442.18" cy="222.30" r="0.72" fill="#111" />
<circle cx="444.18" cy="222.30" r="0.72" fill="#111" />
<circle cx="442.28" cy="237.50" r="0.72" fill="#0a2a08" opacity="0.7"/>
<circle cx="444.68" cy="237.00" r="0.72" fill="#0a2a08" opacity="0.7"/>
<circle cx="443.48" cy="239.80" r="0.72" fill="#0a2a08" opacity="0.7"/>
<circle cx="442.68" cy="242.60" r="0.72" fill="#0a2a08" opacity="0.7"/>
<circle cx="444.48" cy="243.00" r="0.72" fill="#0a2a08" opacity="0.7"/>
<circle cx="474.70" cy="218.60" r="0.72" fill="#0a2a08" opacity="0.7"/>
<circle cx="477.70" cy="218.60" r="0.72" fill="#0a2a08" opacity="0.7"/>
<circle cx="476.20" cy="220.00" r="0.72" fill="#0a2a08" opacity="0.7"/>
<circle cx="474.20" cy="221.60" r="0.72" fill="#0a2a08" opacity="0.7"/>
<circle cx="478.20" cy="221.60" r="0.72" fill="#0a2a08" opacity="0.7"/>
<circle cx="476.20" cy="222.40" r="0.72" fill="#0a2a08" opacity="0.7"/>
<circle cx="323.30" cy="218.40" r="0.75" fill="#111" />
<circle cx="326.00" cy="218.00" r="0.75" fill="#111" />
<circle cx="323.80" cy="221.60" r="0.75" fill="#111" />
<circle cx="324.80" cy="222.40" r="0.75" fill="#111" />
<circle cx="325.80" cy="221.60" r="0.75" fill="#111" />
<circle cx="323.30" cy="235.00" r="0.75" fill="#6a1400" opacity="0.85"/>
<circle cx="326.10" cy="234.20" r="0.75" fill="#6a1400" opacity="0.85"/>
<circle cx="323.30" cy="239.70" r="0.75" fill="#6a1400" opacity="0.85"/>
<circle cx="326.10" cy="239.40" r="0.75" fill="#6a1400" opacity="0.85"/>
<circle cx="357.56" cy="215.60" r="0.75" fill="#111" />
<circle cx="357.56" cy="217.30" r="0.75" fill="#111" />
<circle cx="357.56" cy="231.20" r="0.75" fill="#6a1400" opacity="0.85"/>
<circle cx="356.16" cy="235.00" r="0.75" fill="#6a1400" opacity="0.85"/>
<circle cx="358.96" cy="235.00" r="0.75" fill="#6a1400" opacity="0.85"/>
<circle cx="389.52" cy="208.90" r="0.75" fill="#111" />
<circle cx="391.72" cy="208.70" r="0.75" fill="#111" />
<circle cx="389.12" cy="217.00" r="0.75" fill="#6a1400" opacity="0.85"/>
<circle cx="391.52" cy="217.00" r="0.75" fill="#6a1400" opacity="0.85"/>
<circle cx="390.32" cy="219.60" r="0.75" fill="#6a1400" opacity="0.85"/>
<circle cx="389.32" cy="221.50" r="0.75" fill="#6a1400" opacity="0.85"/>
<circle cx="423.08" cy="204.40" r="0.75" fill="#111" />
<circle cx="424.58" cy="203.70" r="0.75" fill="#111" />
<circle cx="422.08" cy="212.00" r="0.75" fill="#6a1400" opacity="0.85"/>
<circle cx="423.88" cy="212.60" r="0.75" fill="#6a1400" opacity="0.85"/>
<circle cx="423.08" cy="215.60" r="0.75" fill="#6a1400" opacity="0.85"/>
<circle cx="454.84" cy="200.80" r="0.75" fill="#111" />
<circle cx="456.64" cy="200.80" r="0.75" fill="#111" />
<circle cx="454.34" cy="205.80" r="0.75" fill="#6a1400" opacity="0.85"/>
<circle cx="457.34" cy="205.80" r="0.75" fill="#6a1400" opacity="0.85"/>
<circle cx="455.84" cy="206.80" r="0.75" fill="#6a1400" opacity="0.85"/>
<circle cx="486.60" cy="198.60" r="0.75" fill="#111" />
<circle cx="487.90" cy="197.40" r="0.75" fill="#111" />
<circle cx="489.30" cy="197.40" r="0.75" fill="#111" />
<circle cx="490.60" cy="198.60" r="0.75" fill="#111" />
<text x="390.22" y="206.80" font-size="6.5" text-anchor="middle" fill="#333333" stroke="#333333" stroke-width="0.12" textLength="18.60" lengthAdjust="spacing" >&amp;&amp;&amp;&amp;</text>
<text x="422.98" y="201.80" font-size="6.5" text-anchor="middle" fill="#333333" stroke="#333333" stroke-width="0.12" textLength="18.60" lengthAdjust="spacing" >&amp;&amp;&amp;&amp;</text>
<text x="455.74" y="199.10" font-size="6.5" text-anchor="middle" fill="#333333" stroke="#333333" stroke-width="0.12" textLength="18.60" lengthAdjust="spacing" >&amp;&amp;&amp;&amp;</text>
<text x="488.50" y="194.90" font-size="6.5" text-anchor="middle" fill="#333333" stroke="#333333" stroke-width="0.12" textLength="18.60" lengthAdjust="spacing" >&amp;&amp;&amp;&amp;</text>
<text x="411.16" y="232.20" font-size="6.4" text-anchor="middle" fill="#000" stroke="#000" stroke-width="0.3" textLength="8.70" lengthAdjust="spacing" >***</text>
<text x="443.88" y="221.40" font-size="6.4" text-anchor="middle" fill="#000" stroke="#000" stroke-width="0.3" textLength="11.60" lengthAdjust="spacing" >****</text>
<text x="476.60" y="214.70" font-size="6.4" text-anchor="middle" fill="#000" stroke="#000" stroke-width="0.3" textLength="11.60" lengthAdjust="spacing" >****</text>
<text x="401.00" y="280.80" font-size="9.5" text-anchor="middle" fill="#333333" stroke="#333333" stroke-width="0.12" textLength="45.00" lengthAdjust="spacingAndGlyphs" >Anti-D (ng/ml)</text>
<rect x="372.80" y="287.20" width="6.00" height="6.00" fill="#31a136" />
<text x="382.60" y="292.20" font-size="6.7" text-anchor="start" fill="#333333" stroke="#333333" stroke-width="0.12" textLength="20.20" lengthAdjust="spacingAndGlyphs" >30 min</text>
<rect x="412.20" y="287.20" width="6.00" height="6.00" fill="#f48d12" />
<text x="421.60" y="292.20" font-size="6.7" text-anchor="start" fill="#333333" stroke="#333333" stroke-width="0.12" textLength="8.00" lengthAdjust="spacingAndGlyphs" >3h</text>
<line x1="66.30" y1="345.40" x2="66.30" y2="375.90" stroke="#000000" stroke-width="1.0" />
<line x1="66.30" y1="380.20" x2="66.30" y2="407.90" stroke="#000000" stroke-width="1.0" />
<line x1="65.00" y1="375.90" x2="68.00" y2="375.90" stroke="#000000" stroke-width="0.8" />
<line x1="65.00" y1="380.20" x2="68.00" y2="380.20" stroke="#000000" stroke-width="0.8" />
<line x1="63.50" y1="367.10" x2="66.50" y2="367.10" stroke="#000000" stroke-width="1.1" />
<text x="60.30" y="369.75" font-size="7.6" text-anchor="end" fill="#333333" stroke="#333333" stroke-width="0.12" textLength="18.10" lengthAdjust="spacingAndGlyphs" >40000</text>
<line x1="63.50" y1="357.55" x2="66.50" y2="357.55" stroke="#000000" stroke-width="1.1" />
<text x="60.30" y="360.20" font-size="7.6" text-anchor="end" fill="#333333" stroke="#333333" stroke-width="0.12" textLength="18.10" lengthAdjust="spacingAndGlyphs" >60000</text>
<line x1="63.50" y1="348.00" x2="66.50" y2="348.00" stroke="#000000" stroke-width="1.1" />
<text x="60.30" y="350.65" font-size="7.6" text-anchor="end" fill="#333333" stroke="#333333" stroke-width="0.12" textLength="18.10" lengthAdjust="spacingAndGlyphs" >80000</text>
<text x="60.30" y="410.05" font-size="7.6" text-anchor="end" fill="#333333" stroke="#333333" stroke-width="0.12" textLength="3.62" lengthAdjust="spacingAndGlyphs" >0</text>
<line x1="63.50" y1="394.30" x2="66.50" y2="394.30" stroke="#000000" stroke-width="1.1" />
<text x="60.30" y="396.95" font-size="7.6" text-anchor="end" fill="#333333" stroke="#333333" stroke-width="0.12" textLength="18.10" lengthAdjust="spacingAndGlyphs" >10000</text>
<line x1="63.50" y1="381.20" x2="66.50" y2="381.20" stroke="#000000" stroke-width="1.1" />
<text x="60.30" y="383.85" font-size="7.6" text-anchor="end" fill="#333333" stroke="#333333" stroke-width="0.12" textLength="18.10" lengthAdjust="spacingAndGlyphs" >20000</text>
<text x="24.70" y="378.70" font-size="8.2" text-anchor="middle" fill="#333333" stroke="#333333" stroke-width="0.12" textLength="36.00" lengthAdjust="spacingAndGlyphs" transform="rotate(-90 24.70 378.70)" >MFI PKH67</text>
<text x="21.00" y="359.00" font-size="5.2" text-anchor="middle" fill="#333333" stroke="#333333" stroke-width="0.12" transform="rotate(-90 21.00 359.00)" >+</text>
<text x="36.60" y="376.50" font-size="8.2" text-anchor="middle" fill="#333333" stroke="#333333" stroke-width="0.12" textLength="42.50" lengthAdjust="spacingAndGlyphs" transform="rotate(-90 36.60 376.50)" >macrophages</text>
<line x1="66.50" y1="389.70" x2="242.20" y2="389.70" stroke="#000" stroke-width="1.0" stroke-dasharray="2.1 1.6"/>
<line x1="67.00" y1="393.60" x2="242.20" y2="393.60" stroke="#000" stroke-width="0.9" stroke-dasharray="0.9 1.1"/>
<rect x="70.00" y="394.20" width="7.00" height="13.20" fill="#31a136" />
<rect x="99.95" y="394.20" width="7.00" height="13.20" fill="#31a136" />
<rect x="129.90" y="390.60" width="7.00" height="16.80" fill="#31a136" />
<rect x="159.85" y="380.20" width="7.00" height="27.20" fill="#31a136" />
<rect x="159.85" y="374.30" width="7.00" height="1.60" fill="#31a136" />
<rect x="189.80" y="380.20" width="7.00" height="27.20" fill="#31a136" />
<rect x="189.80" y="364.70" width="7.00" height="11.20" fill="#31a136" />
<rect x="219.75" y="380.20" width="7.00" height="27.20" fill="#31a136" />
<rect x="219.75" y="360.40" width="7.00" height="15.50" fill="#31a136" />
<rect x="81.50" y="391.40" width="7.00" height="16.00" fill="#f48d12" />
<rect x="111.45" y="388.60" width="7.00" height="18.80" fill="#f48d12" />
<rect x="141.40" y="383.10" width="7.00" height="24.30" fill="#f48d12" />
<rect x="171.35" y="380.20" width="7.00" height="27.20" fill="#f48d12" />
<rect x="171.35" y="373.50" width="7.00" height="2.40" fill="#f48d12" />
<rect x="201.30" y="380.20" width="7.00" height="27.20" fill="#f48d12" />
<rect x="201.30" y="371.60" width="7.00" height="4.30" fill="#f48d12" />
<rect x="231.25" y="380.20" width="7.00" height="27.20" fill="#f48d12" />
<rect x="231.25" y="367.40" width="7.00" height="8.50" fill="#f48d12" />
<line x1="63.50" y1="407.40" x2="242.30" y2="407.40" stroke="#000000" stroke-width="1.0" />
<line x1="79.10" y1="407.40" x2="79.10" y2="410.40" stroke="#000000" stroke-width="1.1" />
<text x="79.10" y="420.15" font-size="7.6" text-anchor="middle" fill="#333333" stroke="#333333" stroke-width="0.12" textLength="3.45" lengthAdjust="spacingAndGlyphs" >0</text>
<line x1="109.03" y1="407.40" x2="109.03" y2="410.40" stroke="#000000" stroke-width="1.1" />
<text x="109.03" y="420.15" font-size="7.6" text-anchor="middle" fill="#333333" stroke="#333333" stroke-width="0.12" textLength="6.90" lengthAdjust="spacingAndGlyphs" >14</text>
<line x1="138.96" y1="407.40" x2="138.96" y2="410.40" stroke="#000000" stroke-width="1.1" />
<text x="138.96" y="420.15" font-size="7.6" text-anchor="middle" fill="#333333" stroke="#333333" stroke-width="0.12" textLength="6.90" lengthAdjust="spacingAndGlyphs" >55</text>
<line x1="168.89" y1="407.40" x2="168.89" y2="410.40" stroke="#000000" stroke-width="1.1" />
<text x="168.89" y="420.15" font-size="7.6" text-anchor="middle" fill="#333333" stroke="#333333" stroke-width="0.12" textLength="10.35" lengthAdjust="spacingAndGlyphs" >110</text>
<line x1="198.82" y1="407.40" x2="198.82" y2="410.40" stroke="#000000" stroke-width="1.1" />
<text x="198.82" y="420.15" font-size="7.6" text-anchor="middle" fill="#333333" stroke="#333333" stroke-width="0.12" textLength="10.35" lengthAdjust="spacingAndGlyphs" >221</text>
<line x1="228.75" y1="407.40" x2="228.75" y2="410.40" stroke="#000000" stroke-width="1.1" />
<text x="228.75" y="420.15" font-size="7.6" text-anchor="middle" fill="#333333" stroke="#333333" stroke-width="0.12" textLength="10.35" lengthAdjust="spacingAndGlyphs" >885</text>
<line x1="73.50" y1="391.40" x2="73.50" y2="394.20" stroke="#111" stroke-width="0.85" />
<line x1="71.30" y1="391.40" x2="75.70" y2="391.40" stroke="#111" stroke-width="0.85" />
<line x1="103.45" y1="392.30" x2="103.45" y2="394.20" stroke="#111" stroke-width="0.85" />
<line x1="101.25" y1="392.30" x2="105.65" y2="392.30" stroke="#111" stroke-width="0.85" />
<line x1="133.40" y1="388.60" x2="133.40" y2="390.60" stroke="#111" stroke-width="0.85" />
<line x1="131.20" y1="388.60" x2="135.60" y2="388.60" stroke="#111" stroke-width="0.85" />
<line x1="163.35" y1="372.70" x2="163.35" y2="374.30" stroke="#111" stroke-width="0.85" />
<line x1="161.15" y1="372.70" x2="165.55" y2="372.70" stroke="#111" stroke-width="0.85" />
<line x1="193.30" y1="362.30" x2="193.30" y2="364.70" stroke="#111" stroke-width="0.85" />
<line x1="191.10" y1="362.30" x2="195.50" y2="362.30" stroke="#111" stroke-width="0.85" />
<line x1="223.25" y1="356.70" x2="223.25" y2="360.40" stroke="#111" stroke-width="0.85" />
<line x1="221.05" y1="356.70" x2="225.45" y2="356.70" stroke="#111" stroke-width="0.85" />
<line x1="85.00" y1="389.80" x2="85.00" y2="391.40" stroke="#111" stroke-width="0.85" />
<line x1="82.80" y1="389.80" x2="87.20" y2="389.80" stroke="#111" stroke-width="0.85" />
<line x1="114.95" y1="387.20" x2="114.95" y2="388.60" stroke="#111" stroke-width="0.85" />
<line x1="112.75" y1="387.20" x2="117.15" y2="387.20" stroke="#111" stroke-width="0.85" />
<line x1="144.90" y1="381.60" x2="144.90" y2="383.10" stroke="#111" stroke-width="0.85" />
<line x1="142.70" y1="381.60" x2="147.10" y2="381.60" stroke="#111" stroke-width="0.85" />
<line x1="174.85" y1="372.60" x2="174.85" y2="373.50" stroke="#111" stroke-width="0.85" />
<line x1="172.65" y1="372.60" x2="177.05" y2="372.60" stroke="#111" stroke-width="0.85" />
<line x1="204.80" y1="370.40" x2="204.80" y2="371.60" stroke="#111" stroke-width="0.85" />
<line x1="202.60" y1="370.40" x2="207.00" y2="370.40" stroke="#111" stroke-width="0.85" />
<line x1="234.75" y1="364.70" x2="234.75" y2="367.40" stroke="#111" stroke-width="0.85" />
<line x1="232.55" y1="364.70" x2="236.95" y2="364.70" stroke="#111" stroke-width="0.85" />
<circle cx="73.50" cy="388.30" r="0.72" fill="#111" />
<circle cx="72.00" cy="393.00" r="0.72" fill="#111" />
<circle cx="75.00" cy="393.60" r="0.72" fill="#111" />
<circle cx="73.50" cy="396.00" r="0.72" fill="#0a2a08" opacity="0.7"/>
<circle cx="72.50" cy="398.00" r="0.72" fill="#0a2a08" opacity="0.7"/>
<circle cx="103.45" cy="390.60" r="0.72" fill="#111" />
<circle cx="101.95" cy="393.00" r="0.72" fill="#111" />
<circle cx="104.95" cy="393.40" r="0.72" fill="#111" />
<circle cx="103.45" cy="395.40" r="0.72" fill="#0a2a08" opacity="0.7"/>
<circle cx="133.40" cy="383.40" r="0.72" fill="#111" />
<circle cx="133.40" cy="386.30" r="0.72" fill="#111" />
<circle cx="131.90" cy="391.50" r="0.72" fill="#0a2a08" opacity="0.7"/>
<circle cx="134.90" cy="392.00" r="0.72" fill="#0a2a08" opacity="0.7"/>
<circle cx="162.15" cy="372.20" r="0.72" fill="#111" />
<circle cx="164.55" cy="372.20" r="0.72" fill="#111" />
<circle cx="163.35" cy="371.00" r="0.72" fill="#111" />
<circle cx="162.35" cy="374.80" r="0.72" fill="#0a2a08" opacity="0.7"/>
<circle cx="164.35" cy="375.20" r="0.72" fill="#0a2a08" opacity="0.7"/>
<circle cx="163.35" cy="382.50" r="0.72" fill="#0a2a08" opacity="0.7"/>
<circle cx="163.35" cy="386.00" r="0.72" fill="#0a2a08" opacity="0.7"/>
<circle cx="193.30" cy="356.70" r="0.72" fill="#111" />
<circle cx="193.30" cy="358.80" r="0.72" fill="#111" />
<circle cx="191.80" cy="365.60" r="0.72" fill="#0a2a08" opacity="0.7"/>
<circle cx="194.80" cy="366.00" r="0.72" fill="#0a2a08" opacity="0.7"/>
<circle cx="193.30" cy="368.00" r="0.72" fill="#0a2a08" opacity="0.7"/>
<circle cx="192.30" cy="370.50" r="0.72" fill="#0a2a08" opacity="0.7"/>
<circle cx="222.25" cy="349.90" r="0.72" fill="#111" />
<circle cx="224.05" cy="349.90" r="0.72" fill="#111" />
<circle cx="223.25" cy="358.50" r="0.72" fill="#111" />
<circle cx="221.75" cy="363.00" r="0.72" fill="#0a2a08" opacity="0.7"/>
<circle cx="224.75" cy="363.60" r="0.72" fill="#0a2a08" opacity="0.7"/>
<circle cx="223.25" cy="366.50" r="0.72" fill="#0a2a08" opacity="0.7"/>
<circle cx="83.50" cy="386.60" r="0.75" fill="#111" />
<circle cx="86.20" cy="386.60" r="0.75" fill="#111" />
<circle cx="85.00" cy="392.60" r="0.75" fill="#6a1400" opacity="0.85"/>
<circle cx="83.50" cy="394.40" r="0.75" fill="#6a1400" opacity="0.85"/>
<circle cx="86.50" cy="393.80" r="0.75" fill="#6a1400" opacity="0.85"/>
<circle cx="85.00" cy="396.60" r="0.75" fill="#6a1400" opacity="0.85"/>
<circle cx="114.35" cy="386.30" r="0.75" fill="#111" />
<circle cx="116.15" cy="385.00" r="0.75" fill="#111" />
<circle cx="113.95" cy="390.00" r="0.75" fill="#6a1400" opacity="0.85"/>
<circle cx="115.95" cy="390.60" r="0.75" fill="#6a1400" opacity="0.85"/>
<circle cx="142.90" cy="380.40" r="0.75" fill="#111" />
<circle cx="144.90" cy="381.60" r="0.75" fill="#111" />
<circle cx="146.90" cy="380.40" r="0.75" fill="#111" />
<circle cx="143.90" cy="385.80" r="0.75" fill="#6a1400" opacity="0.85"/>
<circle cx="145.90" cy="385.80" r="0.75" fill="#6a1400" opacity="0.85"/>
<circle cx="173.35" cy="374.60" r="0.75" fill="#6a1400" opacity="0.85"/>
<circle cx="174.85" cy="374.60" r="0.75" fill="#6a1400" opacity="0.85"/>
<circle cx="176.35" cy="374.60" r="0.75" fill="#6a1400" opacity="0.85"/>
<circle cx="173.85" cy="383.00" r="0.75" fill="#6a1400" opacity="0.85"/>
<circle cx="175.85" cy="383.00" r="0.75" fill="#6a1400" opacity="0.85"/>
<circle cx="203.80" cy="368.70" r="0.75" fill="#111" />
<circle cx="205.60" cy="368.70" r="0.75" fill="#111" />
<circle cx="203.30" cy="373.00" r="0.75" fill="#6a1400" opacity="0.85"/>
<circle cx="204.80" cy="373.60" r="0.75" fill="#6a1400" opacity="0.85"/>
<circle cx="206.30" cy="373.00" r="0.75" fill="#6a1400" opacity="0.85"/>
<circle cx="234.75" cy="361.50" r="0.75" fill="#111" />
<circle cx="233.25" cy="369.60" r="0.75" fill="#6a1400" opacity="0.85"/>
<circle cx="234.75" cy="369.80" r="0.75" fill="#6a1400" opacity="0.85"/>
<circle cx="236.25" cy="369.60" r="0.75" fill="#6a1400" opacity="0.85"/>
<text x="163.30" y="371.00" font-size="6.4" text-anchor="middle" fill="#000" stroke="#000" stroke-width="0.3" textLength="5.80" lengthAdjust="spacing" >**</text>
<text x="173.30" y="369.80" font-size="6.5" text-anchor="middle" fill="#333333" stroke="#333333" stroke-width="0.12" >&amp;</text>
<text x="193.50" y="356.70" font-size="6.4" text-anchor="middle" fill="#000" stroke="#000" stroke-width="0.3" textLength="11.60" lengthAdjust="spacing" >****</text>
<text x="204.70" y="366.10" font-size="6.5" text-anchor="middle" fill="#333333" stroke="#333333" stroke-width="0.12" textLength="14.20" lengthAdjust="spacing" >&amp;&amp;&amp;</text>
<text x="222.60" y="350.00" font-size="6.4" text-anchor="middle" fill="#000" stroke="#000" stroke-width="0.3" textLength="11.60" lengthAdjust="spacing" >****</text>
<text x="236.30" y="359.20" font-size="6.5" text-anchor="middle" fill="#333333" stroke="#333333" stroke-width="0.12" textLength="18.60" lengthAdjust="spacing" >&amp;&amp;&amp;&amp;</text>
<text x="154.80" y="432.40" font-size="9.5" text-anchor="middle" fill="#333333" stroke="#333333" stroke-width="0.12" textLength="45.00" lengthAdjust="spacingAndGlyphs" >Anti-D (ng/ml)</text>
<rect x="126.00" y="438.00" width="6.00" height="6.00" fill="#31a136" />
<text x="136.20" y="443.00" font-size="6.7" text-anchor="start" fill="#333333" stroke="#333333" stroke-width="0.12" textLength="20.20" lengthAdjust="spacingAndGlyphs" >30 min</text>
<rect x="165.60" y="438.00" width="6.00" height="6.00" fill="#f48d12" />
<text x="175.40" y="443.00" font-size="6.7" text-anchor="start" fill="#333333" stroke="#333333" stroke-width="0.12" textLength="8.00" lengthAdjust="spacingAndGlyphs" >3h</text>
<text x="301.15" y="333.90" font-size="8.4" text-anchor="middle" fill="#333333" stroke="#333333" stroke-width="0.12" textLength="20.00" lengthAdjust="spacingAndGlyphs" >Non-</text>
<text x="301.15" y="343.90" font-size="8.4" text-anchor="middle" fill="#333333" stroke="#333333" stroke-width="0.12" textLength="39.60" lengthAdjust="spacingAndGlyphs" >sensitized</text>
<text x="359.70" y="333.90" font-size="8.4" text-anchor="middle" fill="#333333" stroke="#333333" stroke-width="0.12" textLength="29.40" lengthAdjust="spacingAndGlyphs" >Isotype</text>
<text x="359.70" y="343.90" font-size="8.4" text-anchor="middle" fill="#333333" stroke="#333333" stroke-width="0.12" textLength="28.40" lengthAdjust="spacingAndGlyphs" >control</text>
<text x="418.80" y="333.90" font-size="8.4" text-anchor="middle" fill="#333333" stroke="#333333" stroke-width="0.12" textLength="26.60" lengthAdjust="spacingAndGlyphs" >Anti-D</text>
<text x="418.80" y="343.90" font-size="8.4" text-anchor="middle" fill="#333333" stroke="#333333" stroke-width="0.12" textLength="36.20" lengthAdjust="spacingAndGlyphs" >55 ng/ml</text>
<text x="478.65" y="333.90" font-size="8.4" text-anchor="middle" fill="#333333" stroke="#333333" stroke-width="0.12" textLength="26.60" lengthAdjust="spacingAndGlyphs" >Anti-D</text>
<text x="478.65" y="343.90" font-size="8.4" text-anchor="middle" fill="#333333" stroke="#333333" stroke-width="0.12" textLength="41.20" lengthAdjust="spacingAndGlyphs" >855 ng/ml</text>
<text x="269.00" y="377.00" font-size="7.6" text-anchor="middle" fill="#333333" stroke="#333333" stroke-width="0.12" textLength="21.50" lengthAdjust="spacingAndGlyphs" transform="rotate(-90 269.00 377.00)" >PKH67</text>
<text x="269.00" y="435.50" font-size="7.6" text-anchor="middle" fill="#333333" stroke="#333333" stroke-width="0.12" textLength="44.00" lengthAdjust="spacingAndGlyphs" transform="rotate(-90 269.00 435.50)" >DIC + PKH67</text>
<defs>
<filter id="b05" x="-50%" y="-50%" width="200%" height="200%"><feGaussianBlur stdDeviation="0.5"/></filter>
<filter id="b07" x="-50%" y="-50%" width="200%" height="200%"><feGaussianBlur stdDeviation="0.8"/></filter>
<filter id="b1" x="-50%" y="-50%" width="200%" height="200%"><feGaussianBlur stdDeviation="0.8"/></filter>
<filter id="b2" x="-50%" y="-50%" width="200%" height="200%"><feGaussianBlur stdDeviation="1.4"/></filter>
<filter id="b3" x="-50%" y="-50%" width="200%" height="200%"><feGaussianBlur stdDeviation="2.5"/></filter>
<filter id="b4" x="-50%" y="-50%" width="200%" height="200%"><feGaussianBlur stdDeviation="4"/></filter>
<filter id="nz1" x="-10%" y="-10%" width="120%" height="120%"><feTurbulence type="fractalNoise" baseFrequency="0.22" numOctaves="2" seed="7" result="t"/><feColorMatrix in="t" type="matrix" values="1.3 0 0 0 -0.17  1.3 0 0 0 -0.17  1.3 0 0 0 -0.17  0 0 0 0 1" result="g"/><feGaussianBlur in="SourceAlpha" stdDeviation="1.6" result="m"/><feComposite in="g" in2="m" operator="in"/></filter>
<filter id="nz2" x="-10%" y="-10%" width="120%" height="120%"><feTurbulence type="fractalNoise" baseFrequency="0.22" numOctaves="2" seed="14" result="t"/><feColorMatrix in="t" type="matrix" values="1.3 0 0 0 -0.17  1.3 0 0 0 -0.17  1.3 0 0 0 -0.17  0 0 0 0 1" result="g"/><feGaussianBlur in="SourceAlpha" stdDeviation="1.6" result="m"/><feComposite in="g" in2="m" operator="in"/></filter>
<filter id="nz3" x="-10%" y="-10%" width="120%" height="120%"><feTurbulence type="fractalNoise" baseFrequency="0.22" numOctaves="2" seed="21" result="t"/><feColorMatrix in="t" type="matrix" values="1.3 0 0 0 -0.17  1.3 0 0 0 -0.17  1.3 0 0 0 -0.17  0 0 0 0 1" result="g"/><feGaussianBlur in="SourceAlpha" stdDeviation="1.6" result="m"/><feComposite in="g" in2="m" operator="in"/></filter>
<filter id="nz4" x="-10%" y="-10%" width="120%" height="120%"><feTurbulence type="fractalNoise" baseFrequency="0.22" numOctaves="2" seed="28" result="t"/><feColorMatrix in="t" type="matrix" values="1.3 0 0 0 -0.17  1.3 0 0 0 -0.17  1.3 0 0 0 -0.17  0 0 0 0 1" result="g"/><feGaussianBlur in="SourceAlpha" stdDeviation="1.6" result="m"/><feComposite in="g" in2="m" operator="in"/></filter>
<filter id="nz5" x="-10%" y="-10%" width="120%" height="120%"><feTurbulence type="fractalNoise" baseFrequency="0.22" numOctaves="2" seed="35" result="t"/><feColorMatrix in="t" type="matrix" values="1.3 0 0 0 -0.17  1.3 0 0 0 -0.17  1.3 0 0 0 -0.17  0 0 0 0 1" result="g"/><feGaussianBlur in="SourceAlpha" stdDeviation="1.6" result="m"/><feComposite in="g" in2="m" operator="in"/></filter>
<filter id="nzbg" x="0" y="0" width="100%" height="100%"><feTurbulence type="fractalNoise" baseFrequency="0.45" numOctaves="2" seed="5" result="t"/><feColorMatrix in="t" type="matrix" values="1.6 0 0 0 -0.3  1.6 0 0 0 -0.3  1.6 0 0 0 -0.3  0 0 0 0 1"/></filter>
<clipPath id="ct0"><rect x="273.65" y="349.0" width="55.15" height="54.8"/></clipPath><clipPath id="cb0"><rect x="273.65" y="407.9" width="55.15" height="54.5"/></clipPath>
<clipPath id="ct1"><rect x="332.2" y="349.0" width="55.2" height="54.8"/></clipPath><clipPath id="cb1"><rect x="332.2" y="407.9" width="55.2" height="54.5"/></clipPath>
<clipPath id="ct2"><rect x="391.3" y="349.0" width="54.7" height="54.8"/></clipPath><clipPath id="cb2"><rect x="391.3" y="407.9" width="54.7" height="54.5"/></clipPath>
<clipPath id="ct3"><rect x="451.15" y="349.0" width="54.75" height="54.8"/></clipPath><clipPath id="cb3"><rect x="451.15" y="407.9" width="54.75" height="54.5"/></clipPath>
</defs>
<rect x="273.65" y="349.00" width="55.15" height="54.80" fill="#040404" />
<g clip-path="url(#ct0)">
<ellipse cx="278.25" cy="352.60" rx="0.7" ry="0.7" fill="#36b846" opacity="0.55" filter="url(#b05)"/>
<ellipse cx="281.25" cy="354.00" rx="0.6" ry="0.6" fill="#36b846" opacity="0.4" filter="url(#b05)"/>
<ellipse cx="275.65" cy="351.60" rx="0.5" ry="0.5" fill="#36b846" opacity="0.3" filter="url(#b05)"/>
</g>
<rect x="332.20" y="349.00" width="55.20" height="54.80" fill="#040404" />
<g clip-path="url(#ct1)">
<ellipse cx="356.40" cy="374.80" rx="0.9" ry="0.9" fill="#6fd27a" opacity="0.95" filter="url(#b05)"/>
<ellipse cx="358.80" cy="371.40" rx="0.6" ry="0.6" fill="#36b846" opacity="0.6" filter="url(#b05)"/>
<ellipse cx="380.20" cy="387.40" rx="0.6" ry="0.6" fill="#1f6a30" opacity="0.5" filter="url(#b05)"/>
</g>
<rect x="391.30" y="349.00" width="54.70" height="54.80" fill="#040404" />
<g clip-path="url(#ct2)">
<ellipse cx="402.10" cy="360.20" rx="1.0" ry="1.0" fill="#2c8f42" opacity="0.55" filter="url(#b05)"/>
<ellipse cx="396.80" cy="360.50" rx="0.8" ry="0.8" fill="#2c8f42" opacity="0.35" filter="url(#b05)"/>
<ellipse cx="405.00" cy="365.80" rx="0.9" ry="0.9" fill="#2c8f42" opacity="0.5" filter="url(#b05)"/>
<ellipse cx="397.10" cy="369.60" rx="0.8" ry="0.8" fill="#2c8f42" opacity="0.45" filter="url(#b05)"/>
<ellipse cx="402.80" cy="370.00" rx="0.8" ry="0.8" fill="#2c8f42" opacity="0.4" filter="url(#b05)"/>
<ellipse cx="405.70" cy="370.20" rx="0.7" ry="0.7" fill="#2c8f42" opacity="0.4" filter="url(#b05)"/>
<ellipse cx="395.80" cy="374.00" rx="0.9" ry="0.9" fill="#2c8f42" opacity="0.5" filter="url(#b05)"/>
<ellipse cx="398.50" cy="376.20" rx="0.9" ry="0.9" fill="#2c8f42" opacity="0.45" filter="url(#b05)"/>
<ellipse cx="401.80" cy="374.50" rx="0.7" ry="0.7" fill="#2c8f42" opacity="0.4" filter="url(#b05)"/>
<ellipse cx="409.80" cy="372.00" rx="0.6" ry="0.6" fill="#2c8f42" opacity="0.3" filter="url(#b05)"/>
<ellipse cx="423.90" cy="371.60" rx="2.0" ry="2.0" fill="#2c8f42" opacity="0.75" filter="url(#b05)"/>
<ellipse cx="426.90" cy="369.60" rx="1.3" ry="1.3" fill="#2c8f42" opacity="0.6" filter="url(#b05)"/>
<ellipse cx="421.80" cy="373.20" rx="1.2" ry="1.2" fill="#2c8f42" opacity="0.6" filter="url(#b05)"/>
<ellipse cx="425.60" cy="366.60" rx="0.9" ry="0.9" fill="#2c8f42" opacity="0.45" filter="url(#b05)"/>
<ellipse cx="428.30" cy="372.00" rx="0.8" ry="0.8" fill="#2c8f42" opacity="0.4" filter="url(#b05)"/>
<ellipse cx="436.30" cy="363.00" rx="0.7" ry="0.7" fill="#2c8f42" opacity="0.25" filter="url(#b05)"/>
<ellipse cx="441.30" cy="359.50" rx="0.7" ry="0.7" fill="#2c8f42" opacity="0.25" filter="url(#b05)"/>
<ellipse cx="435.30" cy="395.50" rx="0.8" ry="0.8" fill="#2c8f42" opacity="0.4" filter="url(#b05)"/>
<ellipse cx="443.90" cy="395.00" rx="0.9" ry="0.9" fill="#2c8f42" opacity="0.45" filter="url(#b05)"/>
<ellipse cx="439.30" cy="397.00" rx="0.6" ry="0.6" fill="#2c8f42" opacity="0.3" filter="url(#b05)"/>
<ellipse cx="431.30" cy="387.00" rx="0.6" ry="0.6" fill="#2c8f42" opacity="0.2" filter="url(#b05)"/>
</g>
<rect x="451.15" y="349.00" width="54.75" height="54.80" fill="#040404" />
<g clip-path="url(#ct3)">
<ellipse cx="455.75" cy="356.20" rx="4.6" ry="5.6" fill="#34b545" opacity="1" filter="url(#b1)"/>
<ellipse cx="453.65" cy="352.50" rx="2.5" ry="2.2" fill="#34b545" opacity="0.9" filter="url(#b1)"/>
<ellipse cx="458.95" cy="353.20" rx="2.2" ry="2.2" fill="#34b545" opacity="0.8" filter="url(#b1)"/>
<ellipse cx="465.45" cy="384.40" rx="2.7" ry="1.7" fill="#34b545" opacity="0.95" filter="url(#b1)" transform="rotate(-25 465.45 384.40)"/>
<ellipse cx="463.45" cy="390.50" rx="3.1" ry="3.0" fill="#34b545" opacity="1" filter="url(#b1)"/>
<ellipse cx="475.55" cy="384.60" rx="1.2" ry="1.2" fill="#2c8f42" opacity="0.7" filter="url(#b05)"/>
<ellipse cx="466.65" cy="361.50" rx="1.8" ry="1.3" fill="#1f6a30" opacity="0.6" filter="url(#b1)"/>
<ellipse cx="451.75" cy="378.00" rx="1.0" ry="2.5" fill="#2c8f42" opacity="0.8" filter="url(#b05)"/>
<ellipse cx="460.65" cy="378.00" rx="1.0" ry="2.4" fill="#1f6a30" opacity="0.6" filter="url(#b05)" transform="rotate(-30 460.65 378.00)"/>
<ellipse cx="467.65" cy="370.50" rx="0.8" ry="0.8" fill="#1f6a30" opacity="0.6" filter="url(#b05)"/>
<ellipse cx="472.15" cy="372.80" rx="0.8" ry="0.8" fill="#1f6a30" opacity="0.5" filter="url(#b05)"/>
<ellipse cx="456.15" cy="373.00" rx="1.5" ry="1.2" fill="#1f6a30" opacity="0.4" filter="url(#b1)"/>
<ellipse cx="475.15" cy="391.00" rx="0.8" ry="0.8" fill="#1f6a30" opacity="0.4" filter="url(#b05)"/>
</g>
<rect x="273.65" y="407.90" width="55.15" height="54.50" fill="#737373" />
<g clip-path="url(#cb0)">
<ellipse cx="317.65" cy="423.90" rx="14" ry="16" fill="#787878" opacity="0.8" filter="url(#b3)"/>
<ellipse cx="315.65" cy="453.90" rx="12" ry="7" fill="#707070" opacity="0.7" filter="url(#b3)"/>
<ellipse cx="284.65" cy="423.90" rx="5.5" ry="17" fill="#8e8e8e" opacity="0.7" filter="url(#b2)" transform="rotate(-24 284.65 423.90)"/>
<ellipse cx="284.65" cy="423.90" rx="6" ry="17" fill="#000" opacity="0.5" filter="url(#nz2)" transform="rotate(-24 284.65 423.90)"/>
<ellipse cx="277.65" cy="410.90" rx="5" ry="3.5" fill="#a0a0a0" opacity="0.7" filter="url(#b2)"/>
<ellipse cx="293.65" cy="440.90" rx="8.5" ry="6.5" fill="#9c9c9c" opacity="0.8" filter="url(#b1)" transform="rotate(5 293.65 440.90)"/>
<ellipse cx="293.65" cy="440.90" rx="8.075" ry="6.175" fill="#000" opacity="0.5" filter="url(#nz3)" transform="rotate(5 293.65 440.90)"/>
<ellipse cx="294.15" cy="441.40" rx="8.5" ry="6.5" fill="none" stroke="#3a3a3a" stroke-width="0.9" opacity="0.5" filter="url(#b07)" transform="rotate(5 294.15 441.40)"/>
<ellipse cx="293.25" cy="440.50" rx="7.65" ry="5.85" fill="none" stroke="#d8d8d8" stroke-width="0.9" opacity="0.5" stroke-dasharray="15.6 47.3" stroke-dashoffset="-21.3" filter="url(#b07)" transform="rotate(5 293.65 440.90)"/>
<ellipse cx="278.15" cy="446.90" rx="5.5" ry="10" fill="#888" opacity="0.6" filter="url(#b1)"/>
<ellipse cx="278.15" cy="446.90" rx="5.225" ry="9.5" fill="#000" opacity="0.5" filter="url(#nz4)"/>
<ellipse cx="278.65" cy="447.40" rx="5.5" ry="10" fill="none" stroke="#3a3a3a" stroke-width="0.9" opacity="0.5" filter="url(#b07)"/>
<ellipse cx="277.75" cy="446.50" rx="4.95" ry="9.00" fill="none" stroke="#d8d8d8" stroke-width="0.9" opacity="0.5" stroke-dasharray="16.4 49.7" stroke-dashoffset="-22.4" filter="url(#b07)"/>
<ellipse cx="309.15" cy="443.90" rx="4.2" ry="2.2" fill="#b4b4b4" opacity="0.8" filter="url(#b1)"/>
<ellipse cx="308.65" cy="429.90" rx="4.2" ry="3.6" fill="none" stroke="#8c8c8c" stroke-width="0.9" opacity="0.6" filter="url(#b07)"/>
<path d="M279.35,416.60 L282.95,420.50 L285.95,425.10 L288.45,429.90 L290.25,432.90 L291.65,436.90" fill="none" stroke="#e6e6e6" stroke-width="3.04" stroke-linecap="round" stroke-linejoin="round" opacity="0.26"/>
<path d="M279.35,416.60 L282.95,420.50 L285.95,425.10 L288.45,429.90 L290.25,432.90 L291.65,436.90" fill="none" stroke="#e6e6e6" stroke-width="1.44" stroke-linecap="round" stroke-linejoin="round" opacity="0.51"/>
<path d="M275.15,409.90 L277.65,413.90 L279.35,416.60" fill="none" stroke="#c8c8c8" stroke-width="2.66" stroke-linecap="round" stroke-linejoin="round" opacity="0.21"/>
<path d="M275.15,409.90 L277.65,413.90 L279.35,416.60" fill="none" stroke="#c8c8c8" stroke-width="1.26" stroke-linecap="round" stroke-linejoin="round" opacity="0.42"/>
<ellipse cx="283.25" cy="420.50" rx="1.7" ry="1.4" fill="#ffffff" opacity="1" filter="url(#b07)" transform="rotate(40 283.25 420.50)"/>
<path d="M290.85,411.70 L291.45,415.40 L292.05,419.00 L294.25,423.40 L296.85,427.50 L298.55,431.20 L299.95,434.80 L301.15,438.40" fill="none" stroke="#2e2e2e" stroke-width="2.09" stroke-linecap="round" stroke-linejoin="round" opacity="0.19"/>
<path d="M290.85,411.70 L291.45,415.40 L292.05,419.00 L294.25,423.40 L296.85,427.50 L298.55,431.20 L299.95,434.80 L301.15,438.40" fill="none" stroke="#2e2e2e" stroke-width="0.99" stroke-linecap="round" stroke-linejoin="round" opacity="0.38"/>
<path d="M282.65,408.90 L285.65,411.90 L289.15,412.40 L290.85,410.90" fill="none" stroke="#484848" stroke-width="1.90" stroke-linecap="round" stroke-linejoin="round" opacity="0.15"/>
<path d="M282.65,408.90 L285.65,411.90 L289.15,412.40 L290.85,410.90" fill="none" stroke="#484848" stroke-width="0.90" stroke-linecap="round" stroke-linejoin="round" opacity="0.29"/>
<path d="M274.45,435.40 L277.15,435.70 L279.95,436.60 L282.35,439.60 L283.25,442.40 L283.65,445.40 L284.65,448.40" fill="none" stroke="#2c2c2c" stroke-width="2.28" stroke-linecap="round" stroke-linejoin="round" opacity="0.19"/>
<path d="M274.45,435.40 L277.15,435.70 L279.95,436.60 L282.35,439.60 L283.25,442.40 L283.65,445.40 L284.65,448.40" fill="none" stroke="#2c2c2c" stroke-width="1.08" stroke-linecap="round" stroke-linejoin="round" opacity="0.38"/>
<ellipse cx="276.85" cy="448.10" rx="1.8" ry="1.6" fill="#ffffff" opacity="0.95" filter="url(#b07)"/>
<ellipse cx="292.25" cy="456.50" rx="2.6" ry="3.4" fill="#ffffff" opacity="1" filter="url(#b07)" transform="rotate(-25 292.25 456.50)"/>
<ellipse cx="301.45" cy="444.30" rx="1.6" ry="2.6" fill="#fafafa" opacity="0.95" filter="url(#b07)" transform="rotate(20 301.45 444.30)"/>
<ellipse cx="309.35" cy="452.90" rx="2.3" ry="1.6" fill="#ffffff" opacity="0.95" filter="url(#b07)"/>
<path d="M301.65,439.60 L305.15,439.50 L309.05,440.20 L312.25,441.50 L315.05,443.30 L316.65,445.10 L317.45,447.30" fill="none" stroke="#2e2e2e" stroke-width="2.09" stroke-linecap="round" stroke-linejoin="round" opacity="0.19"/>
<path d="M301.65,439.60 L305.15,439.50 L309.05,440.20 L312.25,441.50 L315.05,443.30 L316.65,445.10 L317.45,447.30" fill="none" stroke="#2e2e2e" stroke-width="0.99" stroke-linecap="round" stroke-linejoin="round" opacity="0.38"/>
<ellipse cx="299.15" cy="449.40" rx="4.6" ry="2.2" fill="#3c3c3c" opacity="0.75" filter="url(#b07)" transform="rotate(10 299.15 449.40)"/>
<path d="M286.65,446.90 L289.15,449.90 L289.95,453.40" fill="none" stroke="#383838" stroke-width="1.90" stroke-linecap="round" stroke-linejoin="round" opacity="0.17"/>
<path d="M286.65,446.90 L289.15,449.90 L289.95,453.40" fill="none" stroke="#383838" stroke-width="0.90" stroke-linecap="round" stroke-linejoin="round" opacity="0.34"/>
<path d="M303.65,448.90 L307.65,449.40 L311.65,448.40" fill="none" stroke="#4a4a4a" stroke-width="1.71" stroke-linecap="round" stroke-linejoin="round" opacity="0.13"/>
<path d="M303.65,448.90 L307.65,449.40 L311.65,448.40" fill="none" stroke="#4a4a4a" stroke-width="0.81" stroke-linecap="round" stroke-linejoin="round" opacity="0.27"/>
<path d="M295.65,436.90 L297.65,439.90 L298.65,443.40" fill="none" stroke="#d0d0d0" stroke-width="1.90" stroke-linecap="round" stroke-linejoin="round" opacity="0.21"/>
<path d="M295.65,436.90 L297.65,439.90 L298.65,443.40" fill="none" stroke="#d0d0d0" stroke-width="0.90" stroke-linecap="round" stroke-linejoin="round" opacity="0.42"/>
<line x1="311.65" y1="451.90" x2="327.65" y2="451.90" stroke="#858585" stroke-width="0.5" opacity="0.6"/>
<line x1="311.65" y1="453.90" x2="327.65" y2="453.90" stroke="#858585" stroke-width="0.5" opacity="0.6"/>
<line x1="311.65" y1="455.90" x2="327.65" y2="455.90" stroke="#858585" stroke-width="0.5" opacity="0.6"/>
<line x1="311.65" y1="457.90" x2="327.65" y2="457.90" stroke="#858585" stroke-width="0.5" opacity="0.6"/>
<rect x="273.65" y="407.9" width="55.15" height="54.5" filter="url(#nzbg)" opacity="0.13"/>
</g>
<line x1="276.45" y1="401.00" x2="288.25" y2="401.00" stroke="#d0d0d0" stroke-width="1.1" />
<line x1="276.25" y1="459.90" x2="288.05" y2="459.90" stroke="#ececec" stroke-width="1.2" />
<rect x="332.20" y="407.90" width="55.20" height="54.50" fill="#737373" />
<g clip-path="url(#cb1)">
<rect x="332.20" y="407.90" width="55.20" height="54.50" fill="#6d6d6d" />
<ellipse cx="346.70" cy="419.90" rx="10" ry="8" fill="#7e7e7e" opacity="0.55" filter="url(#b1)" transform="rotate(25 346.70 419.90)"/>
<ellipse cx="346.70" cy="419.90" rx="9.5" ry="7.6" fill="#000" opacity="0.35" filter="url(#nz2)" transform="rotate(25 346.70 419.90)"/>
<ellipse cx="347.20" cy="420.40" rx="10" ry="8" fill="none" stroke="#3a3a3a" stroke-width="0.9" opacity="0.45" filter="url(#b07)" transform="rotate(25 347.20 420.40)"/>
<ellipse cx="346.30" cy="419.50" rx="9.00" ry="7.20" fill="none" stroke="#d8d8d8" stroke-width="0.9" opacity="0.45" stroke-dasharray="18.7 56.7" stroke-dashoffset="-25.5" filter="url(#b07)" transform="rotate(25 346.70 419.90)"/>
<ellipse cx="356.20" cy="431.90" rx="10.5" ry="7.5" fill="#7e7e7e" opacity="0.55" filter="url(#b1)" transform="rotate(25 356.20 431.90)"/>
<ellipse cx="356.20" cy="431.90" rx="9.975" ry="7.125" fill="#000" opacity="0.4" filter="url(#nz3)" transform="rotate(25 356.20 431.90)"/>
<ellipse cx="356.70" cy="432.40" rx="10.5" ry="7.5" fill="none" stroke="#3a3a3a" stroke-width="0.9" opacity="0.4" filter="url(#b07)" transform="rotate(25 356.70 432.40)"/>
<ellipse cx="355.80" cy="431.50" rx="9.45" ry="6.75" fill="none" stroke="#d8d8d8" stroke-width="0.9" opacity="0.4" stroke-dasharray="18.8 56.9" stroke-dashoffset="-25.6" filter="url(#b07)" transform="rotate(25 356.20 431.90)"/>
<ellipse cx="375.20" cy="446.40" rx="7.5" ry="8" fill="#7c7c7c" opacity="0.55" filter="url(#b1)"/>
<ellipse cx="375.20" cy="446.40" rx="7.125" ry="7.6" fill="#000" opacity="0.35" filter="url(#nz4)"/>
<ellipse cx="375.70" cy="446.90" rx="7.5" ry="8" fill="none" stroke="#3a3a3a" stroke-width="0.9" opacity="0.45" filter="url(#b07)"/>
<ellipse cx="374.80" cy="446.00" rx="6.75" ry="7.20" fill="none" stroke="#d8d8d8" stroke-width="0.9" opacity="0.45" stroke-dasharray="16.1 48.7" stroke-dashoffset="-21.9" filter="url(#b07)"/>
<ellipse cx="341.70" cy="445.50" rx="8" ry="8.5" fill="#7c7c7c" opacity="0.55" filter="url(#b1)"/>
<ellipse cx="341.70" cy="445.50" rx="7.6" ry="8.075" fill="#000" opacity="0.35" filter="url(#nz5)"/>
<ellipse cx="342.20" cy="446.00" rx="8" ry="8.5" fill="none" stroke="#3a3a3a" stroke-width="0.9" opacity="0.45" filter="url(#b07)"/>
<ellipse cx="341.30" cy="445.10" rx="7.20" ry="7.65" fill="none" stroke="#d8d8d8" stroke-width="0.9" opacity="0.45" stroke-dasharray="17.1 51.8" stroke-dashoffset="-23.3" filter="url(#b07)"/>
<ellipse cx="368.20" cy="427.90" rx="5" ry="4" fill="#7a7a7a" opacity="0.5" filter="url(#b1)"/>
<path d="M343.20,419.90 L343.80,421.90 L344.90,423.70 L346.80,424.90 L349.20,425.50" fill="none" stroke="#f2f2f2" stroke-width="2.47" stroke-linecap="round" stroke-linejoin="round" opacity="0.28"/>
<path d="M343.20,419.90 L343.80,421.90 L344.90,423.70 L346.80,424.90 L349.20,425.50" fill="none" stroke="#f2f2f2" stroke-width="1.17" stroke-linecap="round" stroke-linejoin="round" opacity="0.57"/>
<path d="M353.40,437.60 L355.40,438.70 L357.70,439.40 L360.20,440.40 L362.50,441.20" fill="none" stroke="#f6f6f6" stroke-width="2.47" stroke-linecap="round" stroke-linejoin="round" opacity="0.28"/>
<path d="M353.40,437.60 L355.40,438.70 L357.70,439.40 L360.20,440.40 L362.50,441.20" fill="none" stroke="#f6f6f6" stroke-width="1.17" stroke-linecap="round" stroke-linejoin="round" opacity="0.57"/>
<path d="M336.40,441.90 L336.10,444.90 L337.00,448.40" fill="none" stroke="#d0d0d0" stroke-width="2.09" stroke-linecap="round" stroke-linejoin="round" opacity="0.24"/>
<path d="M336.40,441.90 L336.10,444.90 L337.00,448.40" fill="none" stroke="#d0d0d0" stroke-width="0.99" stroke-linecap="round" stroke-linejoin="round" opacity="0.48"/>
<path d="M368.60,444.90 L368.80,447.90 L369.80,450.50" fill="none" stroke="#d6d6d6" stroke-width="2.09" stroke-linecap="round" stroke-linejoin="round" opacity="0.26"/>
<path d="M368.60,444.90 L368.80,447.90 L369.80,450.50" fill="none" stroke="#d6d6d6" stroke-width="0.99" stroke-linecap="round" stroke-linejoin="round" opacity="0.51"/>
<path d="M335.80,413.90 L334.80,417.90 L334.60,422.40 L335.80,426.90 L338.20,430.90" fill="none" stroke="#b4b4b4" stroke-width="1.90" stroke-linecap="round" stroke-linejoin="round" opacity="0.18"/>
<path d="M335.80,413.90 L334.80,417.90 L334.60,422.40 L335.80,426.90 L338.20,430.90" fill="none" stroke="#b4b4b4" stroke-width="0.90" stroke-linecap="round" stroke-linejoin="round" opacity="0.36"/>
<path d="M344.20,429.90 L345.20,433.90 L348.20,437.40" fill="none" stroke="#c4c4c4" stroke-width="1.90" stroke-linecap="round" stroke-linejoin="round" opacity="0.21"/>
<path d="M344.20,429.90 L345.20,433.90 L348.20,437.40" fill="none" stroke="#c4c4c4" stroke-width="0.90" stroke-linecap="round" stroke-linejoin="round" opacity="0.42"/>
<path d="M341.90,413.90 L345.20,412.80 L349.20,412.70 L353.20,414.70 L356.40,417.60 L359.20,420.50 L361.20,423.70" fill="none" stroke="#3a3a3a" stroke-width="1.90" stroke-linecap="round" stroke-linejoin="round" opacity="0.18"/>
<path d="M341.90,413.90 L345.20,412.80 L349.20,412.70 L353.20,414.70 L356.40,417.60 L359.20,420.50 L361.20,423.70" fill="none" stroke="#3a3a3a" stroke-width="0.90" stroke-linecap="round" stroke-linejoin="round" opacity="0.36"/>
<path d="M365.20,424.90 L368.20,427.40 L372.20,430.90 L373.20,433.90" fill="none" stroke="#404040" stroke-width="1.90" stroke-linecap="round" stroke-linejoin="round" opacity="0.16"/>
<path d="M365.20,424.90 L368.20,427.40 L372.20,430.90 L373.20,433.90" fill="none" stroke="#404040" stroke-width="0.90" stroke-linecap="round" stroke-linejoin="round" opacity="0.31"/>
<path d="M371.00,439.40 L375.20,439.10 L379.50,440.60 L381.40,443.40 L381.90,446.70" fill="none" stroke="#3c3c3c" stroke-width="1.90" stroke-linecap="round" stroke-linejoin="round" opacity="0.17"/>
<path d="M371.00,439.40 L375.20,439.10 L379.50,440.60 L381.40,443.40 L381.90,446.70" fill="none" stroke="#3c3c3c" stroke-width="0.90" stroke-linecap="round" stroke-linejoin="round" opacity="0.34"/>
<path d="M348.20,415.90 L352.20,418.90 L354.20,422.90" fill="none" stroke="#c0c0c0" stroke-width="1.71" stroke-linecap="round" stroke-linejoin="round" opacity="0.17"/>
<path d="M348.20,415.90 L352.20,418.90 L354.20,422.90" fill="none" stroke="#c0c0c0" stroke-width="0.81" stroke-linecap="round" stroke-linejoin="round" opacity="0.33"/>
<path d="M339.20,436.90 L343.20,437.40 L347.20,439.40" fill="none" stroke="#404040" stroke-width="1.90" stroke-linecap="round" stroke-linejoin="round" opacity="0.13"/>
<path d="M339.20,436.90 L343.20,437.40 L347.20,439.40" fill="none" stroke="#404040" stroke-width="0.90" stroke-linecap="round" stroke-linejoin="round" opacity="0.27"/>
<rect x="332.2" y="407.9" width="55.2" height="54.5" filter="url(#nzbg)" opacity="0.13"/>
</g>
<line x1="335.00" y1="401.00" x2="346.80" y2="401.00" stroke="#d0d0d0" stroke-width="1.1" />
<line x1="334.80" y1="459.90" x2="346.60" y2="459.90" stroke="#ececec" stroke-width="1.2" />
<rect x="391.30" y="407.90" width="54.70" height="54.50" fill="#737373" />
<g clip-path="url(#cb2)">
<ellipse cx="400.80" cy="427.40" rx="8" ry="10.5" fill="#8a9795" opacity="0.45" filter="url(#b2)"/>
<ellipse cx="399.30" cy="435.90" rx="6" ry="4" fill="#7f9f9c" opacity="0.5" filter="url(#b2)"/>
<ellipse cx="400.80" cy="427.90" rx="8" ry="11" fill="#000" opacity="0.25" filter="url(#nz2)"/>
<ellipse cx="438.30" cy="421.40" rx="8" ry="5.5" fill="#9c9c9c" opacity="0.8" filter="url(#b2)"/>
<ellipse cx="438.30" cy="421.40" rx="8" ry="5" fill="#000" opacity="0.4" filter="url(#nz3)"/>
<ellipse cx="443.30" cy="417.90" rx="3" ry="3" fill="#c4c4c4" opacity="0.7" filter="url(#b1)"/>
<ellipse cx="437.80" cy="448.90" rx="8.5" ry="8.5" fill="#909090" opacity="0.9" filter="url(#b1)"/>
<ellipse cx="437.80" cy="448.90" rx="8.075" ry="8.075" fill="#000" opacity="0.6" filter="url(#nz4)"/>
<ellipse cx="438.30" cy="449.40" rx="8.5" ry="8.5" fill="none" stroke="#3a3a3a" stroke-width="1.0" opacity="0.8" filter="url(#b07)"/>
<ellipse cx="437.40" cy="448.50" rx="7.65" ry="7.65" fill="none" stroke="#d8d8d8" stroke-width="1.0" opacity="0.8" stroke-dasharray="17.6 53.4" stroke-dashoffset="-24.0" filter="url(#b07)"/>
<ellipse cx="439.30" cy="446.90" rx="3.5" ry="3" fill="#cccccc" opacity="0.7" filter="url(#b1)"/>
<ellipse cx="435.30" cy="451.90" rx="2.2" ry="1.8" fill="#dcdcdc" opacity="0.7" filter="url(#b07)"/>
<ellipse cx="442.30" cy="451.90" rx="2.2" ry="2.6" fill="#bcbcbc" opacity="0.7" filter="url(#b07)"/>
<ellipse cx="425.60" cy="428.50" rx="2.6" ry="2.6" fill="#3fae52" opacity="0.95" filter="url(#b07)"/>
<ellipse cx="423.30" cy="430.40" rx="1.6" ry="1.2" fill="#3fae52" opacity="0.7" filter="url(#b07)"/>
<ellipse cx="430.90" cy="424.40" rx="1.4" ry="1.8" fill="#c9a0c4" opacity="0.8" filter="url(#b07)"/>
<ellipse cx="394.30" cy="419.90" rx="1.2" ry="1.2" fill="#c0c0c0" opacity="0.6" filter="url(#b07)"/>
<rect x="391.3" y="407.9" width="54.7" height="54.5" filter="url(#nzbg)" opacity="0.13"/>
</g>
<line x1="394.10" y1="401.00" x2="405.90" y2="401.00" stroke="#d0d0d0" stroke-width="1.1" />
<line x1="393.90" y1="459.90" x2="405.70" y2="459.90" stroke="#ececec" stroke-width="1.2" />
<rect x="451.15" y="407.90" width="54.75" height="54.50" fill="#737373" />
<g clip-path="url(#cb3)">
<ellipse cx="461.15" cy="435.90" rx="12" ry="30" fill="#6a6e6a" opacity="0.5" filter="url(#b3)"/>
<ellipse cx="492.15" cy="417.90" rx="8" ry="7.5" fill="#787878" opacity="0.45" filter="url(#b1)"/>
<ellipse cx="492.15" cy="417.90" rx="7.6" ry="7.125" fill="#000" opacity="0.22" filter="url(#nz2)"/>
<ellipse cx="492.65" cy="418.40" rx="8" ry="7.5" fill="none" stroke="#3c3c3c" stroke-width="1.0" opacity="0.75" filter="url(#b07)"/>
<ellipse cx="491.75" cy="417.50" rx="7.20" ry="6.75" fill="none" stroke="#d4d4d4" stroke-width="1.0" opacity="0.75" stroke-dasharray="16.1 48.7" stroke-dashoffset="-21.9" filter="url(#b07)"/>
<ellipse cx="497.15" cy="434.90" rx="7.5" ry="8" fill="#787878" opacity="0.45" filter="url(#b1)"/>
<ellipse cx="497.15" cy="434.90" rx="7.125" ry="7.6" fill="#000" opacity="0.22" filter="url(#nz3)"/>
<ellipse cx="497.65" cy="435.40" rx="7.5" ry="8" fill="none" stroke="#3c3c3c" stroke-width="1.0" opacity="0.75" filter="url(#b07)"/>
<ellipse cx="496.75" cy="434.50" rx="6.75" ry="7.20" fill="none" stroke="#d4d4d4" stroke-width="1.0" opacity="0.75" stroke-dasharray="16.1 48.7" stroke-dashoffset="-21.9" filter="url(#b07)"/>
<ellipse cx="484.15" cy="438.90" rx="6.5" ry="6.5" fill="#787878" opacity="0.45" filter="url(#b1)"/>
<ellipse cx="484.15" cy="438.90" rx="6.175" ry="6.175" fill="#000" opacity="0.22" filter="url(#nz4)"/>
<ellipse cx="484.65" cy="439.40" rx="6.5" ry="6.5" fill="none" stroke="#3c3c3c" stroke-width="1.0" opacity="0.75" filter="url(#b07)"/>
<ellipse cx="483.75" cy="438.50" rx="5.85" ry="5.85" fill="none" stroke="#d4d4d4" stroke-width="1.0" opacity="0.75" stroke-dasharray="13.5 40.8" stroke-dashoffset="-18.4" filter="url(#b07)"/>
<ellipse cx="473.15" cy="423.90" rx="7" ry="7.5" fill="#787878" opacity="0.45" filter="url(#b1)"/>
<ellipse cx="473.15" cy="423.90" rx="6.6499999999999995" ry="7.125" fill="#000" opacity="0.22" filter="url(#nz5)"/>
<ellipse cx="473.65" cy="424.40" rx="7" ry="7.5" fill="none" stroke="#3c3c3c" stroke-width="1.0" opacity="0.75" filter="url(#b07)"/>
<ellipse cx="472.75" cy="423.50" rx="6.30" ry="6.75" fill="none" stroke="#d4d4d4" stroke-width="1.0" opacity="0.75" stroke-dasharray="15.0 45.6" stroke-dashoffset="-20.5" filter="url(#b07)"/>
<ellipse cx="468.15" cy="439.90" rx="6" ry="7" fill="#787878" opacity="0.45" filter="url(#b1)"/>
<ellipse cx="468.15" cy="439.90" rx="5.699999999999999" ry="6.6499999999999995" fill="#000" opacity="0.22" filter="url(#nz1)"/>
<ellipse cx="468.65" cy="440.40" rx="6" ry="7" fill="none" stroke="#3c3c3c" stroke-width="1.0" opacity="0.75" filter="url(#b07)"/>
<ellipse cx="467.75" cy="439.50" rx="5.40" ry="6.30" fill="none" stroke="#d4d4d4" stroke-width="1.0" opacity="0.75" stroke-dasharray="13.5 40.9" stroke-dashoffset="-18.4" filter="url(#b07)"/>
<ellipse cx="459.15" cy="429.90" rx="6" ry="7" fill="#787878" opacity="0.45" filter="url(#b1)"/>
<ellipse cx="459.15" cy="429.90" rx="5.699999999999999" ry="6.6499999999999995" fill="#000" opacity="0.22" filter="url(#nz2)"/>
<ellipse cx="459.65" cy="430.40" rx="6" ry="7" fill="none" stroke="#3c3c3c" stroke-width="1.0" opacity="0.75" filter="url(#b07)"/>
<ellipse cx="458.75" cy="429.50" rx="5.40" ry="6.30" fill="none" stroke="#d4d4d4" stroke-width="1.0" opacity="0.75" stroke-dasharray="13.5 40.9" stroke-dashoffset="-18.4" filter="url(#b07)"/>
<ellipse cx="478.15" cy="452.90" rx="7" ry="6" fill="#787878" opacity="0.45" filter="url(#b1)"/>
<ellipse cx="478.15" cy="452.90" rx="6.6499999999999995" ry="5.699999999999999" fill="#000" opacity="0.22" filter="url(#nz3)"/>
<ellipse cx="478.65" cy="453.40" rx="7" ry="6" fill="none" stroke="#3c3c3c" stroke-width="1.0" opacity="0.75" filter="url(#b07)"/>
<ellipse cx="477.75" cy="452.50" rx="6.30" ry="5.40" fill="none" stroke="#d4d4d4" stroke-width="1.0" opacity="0.75" stroke-dasharray="13.5 40.9" stroke-dashoffset="-18.4" filter="url(#b07)"/>
<ellipse cx="495.15" cy="451.90" rx="8" ry="7" fill="#787878" opacity="0.45" filter="url(#b1)"/>
<ellipse cx="495.15" cy="451.90" rx="7.6" ry="6.6499999999999995" fill="#000" opacity="0.22" filter="url(#nz4)"/>
<ellipse cx="495.65" cy="452.40" rx="8" ry="7" fill="none" stroke="#3c3c3c" stroke-width="1.0" opacity="0.75" filter="url(#b07)"/>
<ellipse cx="494.75" cy="451.50" rx="7.20" ry="6.30" fill="none" stroke="#d4d4d4" stroke-width="1.0" opacity="0.75" stroke-dasharray="15.6 47.2" stroke-dashoffset="-21.2" filter="url(#b07)"/>
<ellipse cx="476.15" cy="410.90" rx="6" ry="5" fill="#787878" opacity="0.45" filter="url(#b1)"/>
<ellipse cx="476.15" cy="410.90" rx="5.699999999999999" ry="4.75" fill="#000" opacity="0.22" filter="url(#nz5)"/>
<ellipse cx="476.65" cy="411.40" rx="6" ry="5" fill="none" stroke="#3c3c3c" stroke-width="1.0" opacity="0.75" filter="url(#b07)"/>
<ellipse cx="475.75" cy="410.50" rx="5.40" ry="4.50" fill="none" stroke="#d4d4d4" stroke-width="1.0" opacity="0.75" stroke-dasharray="11.4 34.6" stroke-dashoffset="-15.6" filter="url(#b07)"/>
<path d="M485.45,416.90 L485.95,413.90 L488.15,411.20 L493.15,410.10 L499.95,409.90" fill="none" stroke="#cccccc" stroke-width="2.09" stroke-linecap="round" stroke-linejoin="round" opacity="0.26"/>
<path d="M485.45,416.90 L485.95,413.90 L488.15,411.20 L493.15,410.10 L499.95,409.90" fill="none" stroke="#cccccc" stroke-width="0.99" stroke-linecap="round" stroke-linejoin="round" opacity="0.51"/>
<path d="M488.15,428.30 L489.35,430.90 L490.75,433.60 L492.65,435.90 L494.65,437.60" fill="none" stroke="#d8d8d8" stroke-width="2.28" stroke-linecap="round" stroke-linejoin="round" opacity="0.27"/>
<path d="M488.15,428.30 L489.35,430.90 L490.75,433.60 L492.65,435.90 L494.65,437.60" fill="none" stroke="#d8d8d8" stroke-width="1.08" stroke-linecap="round" stroke-linejoin="round" opacity="0.54"/>
<path d="M463.05,425.90 L464.15,428.90 L464.35,431.90 L463.15,434.90 L461.65,436.90" fill="none" stroke="#e0e0e0" stroke-width="2.28" stroke-linecap="round" stroke-linejoin="round" opacity="0.27"/>
<path d="M463.05,425.90 L464.15,428.90 L464.35,431.90 L463.15,434.90 L461.65,436.90" fill="none" stroke="#e0e0e0" stroke-width="1.08" stroke-linecap="round" stroke-linejoin="round" opacity="0.54"/>
<path d="M468.15,408.90 L466.15,411.90 L465.65,414.90 L466.95,418.40" fill="none" stroke="#c8c8c8" stroke-width="2.09" stroke-linecap="round" stroke-linejoin="round" opacity="0.24"/>
<path d="M468.15,408.90 L466.15,411.90 L465.65,414.90 L466.95,418.40" fill="none" stroke="#c8c8c8" stroke-width="0.99" stroke-linecap="round" stroke-linejoin="round" opacity="0.48"/>
<path d="M460.35,449.40 L460.95,451.90 L461.65,455.40" fill="none" stroke="#d8d8d8" stroke-width="2.09" stroke-linecap="round" stroke-linejoin="round" opacity="0.26"/>
<path d="M460.35,449.40 L460.95,451.90 L461.65,455.40" fill="none" stroke="#d8d8d8" stroke-width="0.99" stroke-linecap="round" stroke-linejoin="round" opacity="0.51"/>
<path d="M476.15,429.90 L475.75,432.90 L475.55,436.30 L476.65,439.90 L478.85,442.90" fill="none" stroke="#2c2c2c" stroke-width="2.47" stroke-linecap="round" stroke-linejoin="round" opacity="0.19"/>
<path d="M476.15,429.90 L475.75,432.90 L475.55,436.30 L476.65,439.90 L478.85,442.90" fill="none" stroke="#2c2c2c" stroke-width="1.17" stroke-linecap="round" stroke-linejoin="round" opacity="0.38"/>
<path d="M482.85,416.90 L484.15,419.90 L484.15,423.10 L483.15,425.40 L481.45,427.40" fill="none" stroke="#303030" stroke-width="2.28" stroke-linecap="round" stroke-linejoin="round" opacity="0.19"/>
<path d="M482.85,416.90 L484.15,419.90 L484.15,423.10 L483.15,425.40 L481.45,427.40" fill="none" stroke="#303030" stroke-width="1.08" stroke-linecap="round" stroke-linejoin="round" opacity="0.38"/>
<ellipse cx="456.35" cy="416.50" rx="4.4" ry="5.6" fill="#44ad55" opacity="0.9" filter="url(#b1)"/>
<ellipse cx="454.15" cy="412.50" rx="2.4" ry="2.2" fill="#44ad55" opacity="0.7" filter="url(#b1)"/>
<ellipse cx="464.75" cy="450.30" rx="3.4" ry="3.8" fill="#44ad55" opacity="0.9" filter="url(#b1)"/>
<path d="M461.15,434.90 L463.75,437.90 L464.75,440.90 L463.75,443.90 L462.15,446.90 L460.75,450.40 L459.85,454.20" fill="none" stroke="#bfe0c4" stroke-width="1.90" stroke-linecap="round" stroke-linejoin="round" opacity="0.22"/>
<path d="M461.15,434.90 L463.75,437.90 L464.75,440.90 L463.75,443.90 L462.15,446.90 L460.75,450.40 L459.85,454.20" fill="none" stroke="#bfe0c4" stroke-width="0.90" stroke-linecap="round" stroke-linejoin="round" opacity="0.45"/>
<ellipse cx="481.15" cy="457.90" rx="26" ry="5" fill="#606060" opacity="0.6" filter="url(#b2)"/>
<ellipse cx="455.15" cy="437.90" rx="3" ry="5" fill="#4d8a5a" opacity="0.5" filter="url(#b2)"/>
<ellipse cx="461.15" cy="441.90" rx="3" ry="3" fill="#4d8a5a" opacity="0.5" filter="url(#b2)"/>
<ellipse cx="471.15" cy="447.90" rx="3" ry="4" fill="#7a5a6a" opacity="0.35" filter="url(#b2)"/>
<ellipse cx="474.15" cy="427.90" rx="2" ry="2" fill="#5a5a9a" opacity="0.35" filter="url(#b1)"/>
<rect x="451.15" y="407.9" width="54.75" height="54.5" filter="url(#nzbg)" opacity="0.13"/>
</g>
<line x1="453.95" y1="401.00" x2="465.75" y2="401.00" stroke="#d0d0d0" stroke-width="1.1" />
<line x1="453.75" y1="459.90" x2="465.55" y2="459.90" stroke="#ececec" stroke-width="1.2" />
<text x="276.45" y="399.30" font-size="4.6" text-anchor="start" fill="#d8d8d8" stroke="#d8d8d8" stroke-width="0" textLength="11.80" lengthAdjust="spacingAndGlyphs" >10 µm</text>
<g filter="url(#b05)"><line x1="408.90" y1="351.80" x2="405.87" y2="355.68" stroke="#f6ee8c" stroke-width="1.4"/>
<polygon points="403.90,358.20 404.37,354.51 407.37,356.85" fill="#f6ee8c"/></g>
<g filter="url(#b05)"><line x1="420.90" y1="355.80" x2="422.83" y2="360.26" stroke="#f6ee8c" stroke-width="1.4"/>
<polygon points="424.10,363.20 421.09,361.02 424.57,359.51" fill="#f6ee8c"/></g>
<g filter="url(#b05)"><line x1="403.80" y1="386.00" x2="403.43" y2="380.99" stroke="#f6ee8c" stroke-width="1.4"/>
<polygon points="403.20,377.80 405.33,380.85 401.54,381.13" fill="#f6ee8c"/></g>
<g filter="url(#b05)"><line x1="408.90" y1="410.70" x2="405.87" y2="414.58" stroke="#f4e060" stroke-width="1.4"/>
<polygon points="403.90,417.10 404.37,413.41 407.37,415.75" fill="#f4e060"/></g>
<g filter="url(#b05)"><line x1="420.90" y1="414.70" x2="422.83" y2="419.16" stroke="#f4e060" stroke-width="1.4"/>
<polygon points="424.10,422.10 421.09,419.92 424.57,418.41" fill="#f4e060"/></g>
<g filter="url(#b05)"><line x1="403.80" y1="444.90" x2="403.43" y2="439.89" stroke="#f4e060" stroke-width="1.4"/>
<polygon points="403.20,436.70 405.33,439.75 401.54,440.03" fill="#f4e060"/></g>
<g filter="url(#b05)"><line x1="463.75" y1="371.00" x2="460.83" y2="366.99" stroke="#ffffff" stroke-width="1.5"/>
<polygon points="458.95,364.40 462.37,365.87 459.30,368.11" fill="#ffffff"/></g>
<g filter="url(#b05)"><line x1="453.95" y1="382.40" x2="457.83" y2="385.43" stroke="#ffffff" stroke-width="1.5"/>
<polygon points="460.35,387.40 456.66,386.93 459.00,383.93" fill="#ffffff"/></g>
<g filter="url(#b05)"><line x1="482.65" y1="370.20" x2="477.70" y2="371.05" stroke="#f2d890" stroke-width="1.4"/>
<polygon points="474.55,371.60 477.38,369.18 478.03,372.93" fill="#f2d890"/></g>
<g filter="url(#b05)"><line x1="463.75" y1="429.90" x2="460.83" y2="425.89" stroke="#ffffff" stroke-width="1.5"/>
<polygon points="458.95,423.30 462.37,424.77 459.30,427.01" fill="#ffffff"/></g>
<g filter="url(#b05)"><line x1="453.95" y1="441.30" x2="457.83" y2="444.33" stroke="#ffffff" stroke-width="1.5"/>
<polygon points="460.35,446.30 456.66,445.83 459.00,442.83" fill="#ffffff"/></g>
<g filter="url(#b05)"><line x1="482.65" y1="429.10" x2="477.70" y2="429.95" stroke="#f4e060" stroke-width="1.4"/>
<polygon points="474.55,430.50 477.38,428.08 478.03,431.83" fill="#f4e060"/></g>
<rect x="0" y="0" width="520" height="1" fill="#555555"/><rect x="0" y="468.8" width="520" height="1.2" fill="#555555"/><rect x="0" y="0" width="1.05" height="470" fill="#4c4c4c"/><rect x="519" y="0" width="1" height="470" fill="#5e5e5e"/>
</svg>
</body></html>
